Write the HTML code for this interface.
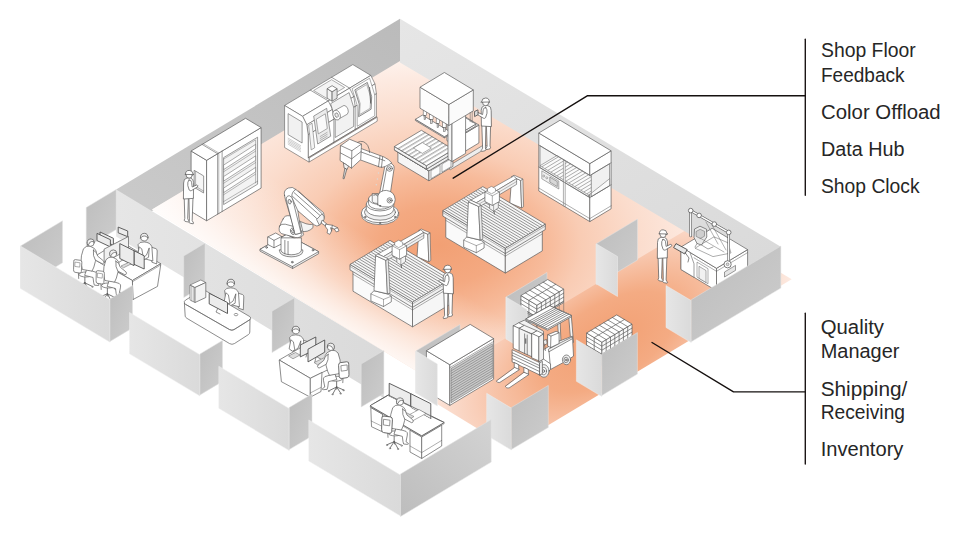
<!DOCTYPE html>
<html><head><meta charset="utf-8"><title>Shop floor</title>
<style>
html,body{margin:0;padding:0;background:#fff;}
body{width:960px;height:540px;overflow:hidden;position:relative;font-family:"Liberation Sans",sans-serif;}
svg{position:absolute;left:0;top:0;display:block;}
.lbl{position:absolute;left:821px;color:#1a1a1a;font-size:19px;line-height:24.5px;white-space:nowrap;letter-spacing:-0.2px;}
</style></head><body>
<svg width="960" height="540" viewBox="0 0 960 540">
<defs>
<radialGradient id="z1" gradientUnits="userSpaceOnUse" cx="0" cy="0" r="300" gradientTransform="translate(440 245) scale(1 0.66)">
<stop offset="0" stop-color="#f2a074"/><stop offset="0.2" stop-color="#f4a981"/><stop offset="0.36" stop-color="#f7bb9b"/><stop offset="0.47" stop-color="#f9ccb4"/><stop offset="0.65" stop-color="#fbdccc"/><stop offset="0.85" stop-color="#fdeae1"/><stop offset="1" stop-color="#fff7f3"/></radialGradient>
<linearGradient id="fadeW" gradientUnits="userSpaceOnUse" x1="250" y1="270.4" x2="297" y2="193">
<stop offset="0" stop-color="#fff" stop-opacity="0.8"/><stop offset="0.4" stop-color="#fff" stop-opacity="0.4"/><stop offset="1" stop-color="#fff" stop-opacity="0"/></linearGradient>
<radialGradient id="z2" gradientUnits="userSpaceOnUse" cx="0" cy="0" r="215" gradientTransform="translate(608 342) rotate(-31) scale(1 0.5)">
<stop offset="0" stop-color="#f29f72"/><stop offset="0.35" stop-color="#f4ab83"/><stop offset="0.7" stop-color="#f9cfba"/><stop offset="1" stop-color="#fdeee7"/></radialGradient>
<linearGradient id="gD" x1="0" y1="0" x2="1" y2="1"><stop offset="0" stop-color="#bdbdbd"/><stop offset="1" stop-color="#cdcdcd"/></linearGradient>
<linearGradient id="gD4" x1="0" y1="1" x2="1" y2="0"><stop offset="0" stop-color="#bdbdbd"/><stop offset="1" stop-color="#d3d3d3"/></linearGradient>
<linearGradient id="gL" x1="0" y1="0" x2="1" y2="0"><stop offset="0" stop-color="#e6e6e6"/><stop offset="1" stop-color="#dadada"/></linearGradient>
<linearGradient id="gNW" x1="0" y1="1" x2="1" y2="0"><stop offset="0" stop-color="#cbcbcb"/><stop offset="1" stop-color="#bbbbbb"/></linearGradient>
<linearGradient id="gNE" x1="0" y1="0" x2="1" y2="1"><stop offset="0" stop-color="#e6e6e6"/><stop offset="1" stop-color="#d9d9d9"/></linearGradient>

</defs>
<polygon points="400,18.8 116.2,189.5 116.2,232.5 400,62.5" fill="url(#gNW)" />
<polygon points="696.8,222.3 791.7,279.2 509.8,448.3 415.8,391" fill="url(#z2)" />
<polygon points="152,209.5 400,61 400,44 697.8,222.9 433.5,381.5" fill="url(#z1)" />
<polygon points="152,209.5 400,61 400,44 697.8,222.9 433.5,381.5" fill="url(#fadeW)" />
<polygon points="400,18.8 780.8,246.7 780.8,288.3 400,62.5" fill="url(#gNE)" />
<polygon points="86.2,207.5 116.2,189.5 116.2,229.5 86.2,247.5" fill="url(#gD)" stroke="#e2e2e2" stroke-width="0.5" stroke-linejoin="round" />
<polygon points="116.2,189.5 383.8,351.2 383.8,398 116.2,236.5" fill="url(#gL)" />
<polygon points="446.9,140.6 464.9,151.4 464.9,133.4 446.9,122.6" fill="#fff" stroke="#5c5c5c" stroke-width="0.7" stroke-linejoin="round" />
<polygon points="464.9,151.4 478.9,143 478.9,125 464.9,133.4" fill="#fff" stroke="#5c5c5c" stroke-width="0.7" stroke-linejoin="round" />
<polygon points="446.9,122.6 460.9,114.2 478.9,125 464.9,133.4" fill="#f2f2f2" stroke="#5c5c5c" stroke-width="0.7" stroke-linejoin="round" />
<polygon points="450.9,124.2 464.9,132.6 464.9,130.6 450.9,122.2" fill="#fff" stroke="#5c5c5c" stroke-width="0.7" stroke-linejoin="round" />
<polygon points="464.9,132.6 475.9,126 475.9,124 464.9,130.6" fill="#fff" stroke="#5c5c5c" stroke-width="0.7" stroke-linejoin="round" />
<polygon points="450.9,122.2 461.9,115.6 475.9,124 464.9,130.6" fill="#fff" stroke="#5c5c5c" stroke-width="0.7" stroke-linejoin="round" />
<polygon points="450.4,169.7 488.4,146.9 484.4,144.5 446.4,167.3" fill="#eee" stroke="#5c5c5c" stroke-width="0.6" stroke-linejoin="round" />
<polygon points="397.9,162.2 428.9,180.8 428.9,170.8 397.9,152.2" fill="#f6f6f6" stroke="#5c5c5c" stroke-width="0.7" stroke-linejoin="round" />
<polygon points="428.9,180.8 452.9,166.4 452.9,156.4 428.9,170.8" fill="#f3f3f3" stroke="#5c5c5c" stroke-width="0.7" stroke-linejoin="round" />
<polygon points="397.9,152.2 421.9,137.8 452.9,156.4 428.9,170.8" fill="#fff" stroke="#5c5c5c" stroke-width="0.7" stroke-linejoin="round" />
<polygon points="397.9,152.2 428.9,170.8 426.4,169.2 394.4,150" fill="#fafafa" stroke="#5c5c5c" stroke-width="0.6" stroke-linejoin="round" />
<polygon points="428.9,170.8 452.9,156.4 453.4,153 426.4,169.2" fill="#f0f0f0" stroke="#5c5c5c" stroke-width="0.6" stroke-linejoin="round" />
<polygon points="431,178.7 440,173.3 440,165.3 431,170.7" fill="#fbfbfb" stroke="#5c5c5c" stroke-width="0.5" stroke-linejoin="round" />
<polygon points="442,172.1 451,166.7 451,158.7 442,164.1" fill="#fbfbfb" stroke="#5c5c5c" stroke-width="0.5" stroke-linejoin="round" />
<polygon points="394.4,150 426.4,169.2 426.4,165.7 394.4,146.5" fill="#f4f4f4" stroke="#5c5c5c" stroke-width="0.7" stroke-linejoin="round" />
<polygon points="426.4,169.2 453.4,153 453.4,149.5 426.4,165.7" fill="#f0f0f0" stroke="#5c5c5c" stroke-width="0.7" stroke-linejoin="round" />
<polygon points="394.4,146.5 421.4,130.3 453.4,149.5 426.4,165.7" fill="#fff" stroke="#5c5c5c" stroke-width="0.7" stroke-linejoin="round" />
<polyline points="397.9,148.6 424.9,132.4" fill="none" stroke="#5c5c5c" stroke-width="0.5" stroke-linejoin="round" stroke-linecap="round" />
<polyline points="398.8,149.1 425.8,132.9" fill="none" stroke="#5c5c5c" stroke-width="0.3" stroke-linejoin="round" stroke-linecap="round" />
<polyline points="401.4,150.7 428.4,134.5" fill="none" stroke="#5c5c5c" stroke-width="0.5" stroke-linejoin="round" stroke-linecap="round" />
<polyline points="402.3,151.2 429.3,135" fill="none" stroke="#5c5c5c" stroke-width="0.3" stroke-linejoin="round" stroke-linecap="round" />
<polyline points="404.9,152.8 431.9,136.6" fill="none" stroke="#5c5c5c" stroke-width="0.5" stroke-linejoin="round" stroke-linecap="round" />
<polyline points="405.8,153.3 432.8,137.1" fill="none" stroke="#5c5c5c" stroke-width="0.3" stroke-linejoin="round" stroke-linecap="round" />
<polyline points="408.4,154.9 435.4,138.7" fill="none" stroke="#5c5c5c" stroke-width="0.5" stroke-linejoin="round" stroke-linecap="round" />
<polyline points="409.3,155.4 436.3,139.2" fill="none" stroke="#5c5c5c" stroke-width="0.3" stroke-linejoin="round" stroke-linecap="round" />
<polyline points="411.9,157 438.9,140.8" fill="none" stroke="#5c5c5c" stroke-width="0.5" stroke-linejoin="round" stroke-linecap="round" />
<polyline points="412.8,157.5 439.8,141.3" fill="none" stroke="#5c5c5c" stroke-width="0.3" stroke-linejoin="round" stroke-linecap="round" />
<polyline points="415.4,159.1 442.4,142.9" fill="none" stroke="#5c5c5c" stroke-width="0.5" stroke-linejoin="round" stroke-linecap="round" />
<polyline points="416.3,159.6 443.3,143.4" fill="none" stroke="#5c5c5c" stroke-width="0.3" stroke-linejoin="round" stroke-linecap="round" />
<polyline points="418.9,161.2 445.9,145" fill="none" stroke="#5c5c5c" stroke-width="0.5" stroke-linejoin="round" stroke-linecap="round" />
<polyline points="419.8,161.7 446.8,145.5" fill="none" stroke="#5c5c5c" stroke-width="0.3" stroke-linejoin="round" stroke-linecap="round" />
<polyline points="422.4,163.3 449.4,147.1" fill="none" stroke="#5c5c5c" stroke-width="0.5" stroke-linejoin="round" stroke-linecap="round" />
<polyline points="423.3,163.8 450.3,147.6" fill="none" stroke="#5c5c5c" stroke-width="0.3" stroke-linejoin="round" stroke-linecap="round" />
<polygon points="413.4,148 422.4,142.6 431.4,148 422.4,153.4" fill="#fff" stroke="#5c5c5c" stroke-width="0.5" stroke-linejoin="round" />
<polygon points="415.4,120.5 444.4,137.9 444.4,136.7 415.4,119.3" fill="#f4f4f4" stroke="#5c5c5c" stroke-width="0.7" stroke-linejoin="round" />
<polygon points="444.4,137.9 451.4,133.7 451.4,132.5 444.4,136.7" fill="#eee" stroke="#5c5c5c" stroke-width="0.7" stroke-linejoin="round" />
<polygon points="415.4,119.3 422.4,115.1 451.4,132.5 444.4,136.7" fill="#fff" stroke="#5c5c5c" stroke-width="0.7" stroke-linejoin="round" />
<g stroke="#5c5c5c" stroke-width="0.55" fill="#fff"><rect x="423.2" y="110.1" width="3.4" height="5.5"/><rect x="424.1" y="115.6" width="1.6" height="4" fill="#ddd"/></g>
<g stroke="#5c5c5c" stroke-width="0.55" fill="#fff"><rect x="429.7" y="114" width="3.4" height="5.5"/><rect x="430.6" y="119.5" width="1.6" height="4" fill="#ddd"/></g>
<g stroke="#5c5c5c" stroke-width="0.55" fill="#fff"><rect x="436.2" y="117.9" width="3.4" height="5.5"/><rect x="437.1" y="123.4" width="1.6" height="4" fill="#ddd"/></g>
<g stroke="#5c5c5c" stroke-width="0.55" fill="#fff"><rect x="442.7" y="121.8" width="3.4" height="5.5"/><rect x="443.6" y="127.3" width="1.6" height="4" fill="#ddd"/></g>
<polygon points="448,159.1 452,161.5 452,119.5 448,117.1" fill="#f4f4f4" stroke="#5c5c5c" stroke-width="0.7" stroke-linejoin="round" />
<polygon points="452,161.5 465.6,153.4 465.6,111.4 452,119.5" fill="#fff" stroke="#5c5c5c" stroke-width="0.7" stroke-linejoin="round" />
<polygon points="448,117.1 461.6,109 465.6,111.4 452,119.5" fill="#fff" stroke="#5c5c5c" stroke-width="0.7" stroke-linejoin="round" />
<polygon points="420,108.2 448.9,125.5 448.9,104.5 420,87.2" fill="#fdfdfd" stroke="#5c5c5c" stroke-width="0.7" stroke-linejoin="round" />
<polygon points="448.9,125.5 473.3,110.9 473.3,89.9 448.9,104.5" fill="#fbfbfb" stroke="#5c5c5c" stroke-width="0.7" stroke-linejoin="round" />
<polygon points="420,87.2 444.4,72.5 473.3,89.9 448.9,104.5" fill="#fff" stroke="#5c5c5c" stroke-width="0.7" stroke-linejoin="round" />
<path d="M470.2,112.7 l0,9 M472.2,111.5 l0,11" fill="none" stroke="#666" stroke-width="0.6" stroke-linejoin="round" stroke-linecap="round" />
<g transform="translate(486.2 151.2) scale(-1 1)" fill="#fff" stroke="#5c5c5c" stroke-width="0.75" stroke-linejoin="round" stroke-linecap="round">
<path d="M0.3,-26 L0.8,-3.2 L0.2,-1.6 Q0.4,-0.4 2.2,-0.2 L4.6,0.2 Q5.6,-0.4 4.4,-1.6 L3.6,-3 L4.4,-26Z"/>
<path d="M-4.4,-26 L-3.8,-5.2 L-4.4,-3.4 Q-4.2,-2.2 -2.4,-2 L0,-1.6 Q1,-2.2 -0.2,-3.4 L-0.9,-5 L-0.2,-26Z"/>
<path d="M-5,-41 Q-5.2,-45 -1.6,-45.6 L1.8,-45.6 Q4.8,-45 5,-41 L4.8,-25.2 L-4.8,-24.6Z"/>
<path d="M0.4,-43.6 Q-1.4,-42 -0.8,-38 L0.6,-33.6 Q1.4,-32.4 2.8,-33 L8.8,-36.6 Q10,-38 8.4,-38.8 L3.6,-36.6 L3,-41.4 Q2.6,-44 0.4,-43.6Z"/>
<path d="M8.6,-41.2 L11.8,-39.6 L11.6,-34.6 L8.4,-36.4Z" fill="#d9d9d9" stroke="#4a4a4a" stroke-width="0.8"/>
<circle cx="0.6" cy="-48.6" r="3.1"/>
<path d="M-3.2,-49.2 Q-3.2,-53.2 0.6,-53.2 Q4.2,-53.2 4.4,-49.6 L5.4,-49 L-3.2,-49.2Z"/>
</g>
<polygon points="284.6,105.5 352.8,64.6 370.8,75.4 302.6,116.3" fill="#ffffff" stroke="#5c5c5c" stroke-width="0.6" stroke-linejoin="round" />
<polygon points="302.6,116.3 370.8,75.4 375,83.9 306.8,124.8" fill="#ffffff" stroke="#5c5c5c" stroke-width="0.6" stroke-linejoin="round" />
<polygon points="306.8,124.8 375,83.9 376.4,93.7 308.2,134.7" fill="#ffffff" stroke="#5c5c5c" stroke-width="0.6" stroke-linejoin="round" />
<polygon points="308.2,134.7 376.4,93.7 376.4,116.7 308.2,157.7" fill="#ffffff" stroke="#5c5c5c" stroke-width="0.6" stroke-linejoin="round" />
<polygon points="309,158.1 377.2,117.2 377.2,121.2 309,162.1" fill="#ffffff" stroke="#5c5c5c" stroke-width="0.6" stroke-linejoin="round" />
<polygon points="284.6,147.5 284.6,105.5 302.6,116.3 306.8,124.8 308.2,134.7 308.2,157.7 309,158.1 309,162.1" fill="#ffffff" stroke="#5c5c5c" stroke-width="0.6" stroke-linejoin="round" />
<polygon points="288.1,134.6 302.1,143 302.1,122 288.1,113.6" fill="#f1f1f1" stroke="#5c5c5c" stroke-width="0.6" stroke-linejoin="round" />
<polyline points="288.1,144.1 300.6,151.6" fill="none" stroke="#5c5c5c" stroke-width="0.3" stroke-linejoin="round" stroke-linecap="round" />
<polyline points="288.1,142.6 300.6,150.1" fill="none" stroke="#5c5c5c" stroke-width="0.3" stroke-linejoin="round" stroke-linecap="round" />
<polyline points="288.1,141.1 300.6,148.6" fill="none" stroke="#5c5c5c" stroke-width="0.3" stroke-linejoin="round" stroke-linecap="round" />
<polyline points="288.1,139.6 300.6,147.1" fill="none" stroke="#5c5c5c" stroke-width="0.3" stroke-linejoin="round" stroke-linecap="round" />
<polyline points="288.1,138.1 300.6,145.6" fill="none" stroke="#5c5c5c" stroke-width="0.3" stroke-linejoin="round" stroke-linecap="round" />
<polyline points="310.3,90.1 328.3,100.9 332.5,109.4 333.9,119.2 333.9,142.2" fill="none" stroke="#5c5c5c" stroke-width="0.6" stroke-linejoin="round" stroke-linecap="round" />
<polyline points="331.6,77.3 349.6,88.1 353.8,96.6 355.2,106.5 355.2,129.5" fill="none" stroke="#5c5c5c" stroke-width="0.6" stroke-linejoin="round" stroke-linecap="round" />
<polyline points="308.2,157.7 376.4,116.7" fill="none" stroke="#5c5c5c" stroke-width="0.6" stroke-linejoin="round" stroke-linecap="round" />
<polygon points="313.6,90.5 331.6,79.7 344.6,87.5 326.6,98.3" fill="#f4f4f4" stroke="#5c5c5c" stroke-width="0.5" stroke-linejoin="round" />
<polygon points="311.2,149.9 314.7,147.8 312.1,123.2 308.6,125.3" fill="#f4f4f4" stroke="#5c5c5c" stroke-width="0.5" stroke-linejoin="round" />
<polygon points="317.7,144 330.7,136.2 326.7,108.3 313.7,116.1" fill="#ececec" stroke="#5c5c5c" stroke-width="0.6" stroke-linejoin="round" />
<polygon points="318.3,133.9 327.3,128.5 325.3,113.8 316.3,119.2" fill="#fafafa" stroke="#5c5c5c" stroke-width="0.5" stroke-linejoin="round" />
<polyline points="320.2,140.5 327.2,136.3" fill="none" stroke="#5c5c5c" stroke-width="0.4" stroke-linejoin="round" stroke-linecap="round" />
<polyline points="320.2,138.5 327.2,134.3" fill="none" stroke="#5c5c5c" stroke-width="0.4" stroke-linejoin="round" stroke-linecap="round" />
<polyline points="320.2,136.5 327.2,132.3" fill="none" stroke="#5c5c5c" stroke-width="0.4" stroke-linejoin="round" stroke-linecap="round" />
<polygon points="335.2,137.5 353.7,126.4 353.7,107.4 349.1,92.6 330.6,103.7 335.2,118.5" fill="#f2f2f2" stroke="#5c5c5c" stroke-width="0.6" stroke-linejoin="round" />
<g stroke="#5c5c5c" stroke-width="0.6" fill="#fff"><path d="M335,110.4 l9,-5 a3.6,5 -20 0 1 3.3,8.8 l-9,5z"/><ellipse cx="336.6" cy="115.1" rx="3.6" ry="5" transform="rotate(-20 336.6 115.1)"/><ellipse cx="336.6" cy="115.1" rx="1.6" ry="2.3" fill="#eee" transform="rotate(-20 336.6 115.1)"/></g>
<polygon points="327.1,98.2 332.1,101.2 332.1,91.7 327.1,88.7" fill="#f4f4f4" stroke="#5c5c5c" stroke-width="0.7" stroke-linejoin="round" />
<polygon points="332.1,101.2 337.1,98.2 337.1,88.7 332.1,91.7" fill="#e4e4e4" stroke="#5c5c5c" stroke-width="0.7" stroke-linejoin="round" />
<polygon points="327.1,88.7 332.1,85.7 337.1,88.7 332.1,91.7" fill="#fff" stroke="#5c5c5c" stroke-width="0.7" stroke-linejoin="round" />
<polygon points="357.2,126.3 374.7,115.8 374.7,94.8 369.6,78.2 352.1,88.7 357.2,105.3" fill="#fff" stroke="#5c5c5c" stroke-width="0.5" stroke-linejoin="round" />
<polygon points="358.6,116.7 371.1,109.2 371.7,96.6 367.3,82.4 354.8,89.9 359.2,104.1" fill="#ededed" stroke="#5c5c5c" stroke-width="0.7" stroke-linejoin="round" />
<polygon points="359.6,114.6 370.1,108.3 370.7,97.2 366.7,84.6 356.2,90.9 360.2,103.5" fill="#f9f9f9" stroke="#5c5c5c" stroke-width="0.4" stroke-linejoin="round" />
<polyline points="370.6,103.1 369.6,87.5" fill="none" stroke="#5c5c5c" stroke-width="0.9" stroke-linejoin="round" stroke-linecap="round" />
<polygon points="538.8,191 589.8,221.6 589.8,163.6 538.8,133" fill="#fff" stroke="#5c5c5c" stroke-width="0.7" stroke-linejoin="round" />
<polygon points="589.8,221.6 611.1,208.8 611.1,150.8 589.8,163.6" fill="#fff" stroke="#5c5c5c" stroke-width="0.7" stroke-linejoin="round" />
<polygon points="538.8,133 560.1,120.2 611.1,150.8 589.8,163.6" fill="#fff" stroke="#5c5c5c" stroke-width="0.7" stroke-linejoin="round" />
<polygon points="540,167.7 588.6,196.9 588.6,174.9 540,145.7" fill="#f2f2f2" stroke="#5c5c5c" stroke-width="0.6" stroke-linejoin="round" />
<polygon points="540,165.7 588.6,194.9 605.6,184.7 557,155.5" fill="#fbfbfb" stroke="#5c5c5c" stroke-width="0.5" stroke-linejoin="round" />
<polyline points="542.3,166.5 558.3,156.9" fill="none" stroke="#5c5c5c" stroke-width="0.5" stroke-linejoin="round" stroke-linecap="round" />
<polyline points="545.3,168.3 561.3,158.7" fill="none" stroke="#5c5c5c" stroke-width="0.5" stroke-linejoin="round" stroke-linecap="round" />
<polyline points="548.3,170.1 564.3,160.5" fill="none" stroke="#5c5c5c" stroke-width="0.5" stroke-linejoin="round" stroke-linecap="round" />
<polyline points="551.3,171.9 567.3,162.3" fill="none" stroke="#5c5c5c" stroke-width="0.5" stroke-linejoin="round" stroke-linecap="round" />
<polyline points="554.3,173.7 570.3,164.1" fill="none" stroke="#5c5c5c" stroke-width="0.5" stroke-linejoin="round" stroke-linecap="round" />
<polyline points="557.3,175.5 573.3,165.9" fill="none" stroke="#5c5c5c" stroke-width="0.5" stroke-linejoin="round" stroke-linecap="round" />
<polyline points="560.3,177.3 576.3,167.7" fill="none" stroke="#5c5c5c" stroke-width="0.5" stroke-linejoin="round" stroke-linecap="round" />
<polyline points="563.3,179.1 579.3,169.5" fill="none" stroke="#5c5c5c" stroke-width="0.5" stroke-linejoin="round" stroke-linecap="round" />
<polyline points="566.3,180.9 582.3,171.3" fill="none" stroke="#5c5c5c" stroke-width="0.5" stroke-linejoin="round" stroke-linecap="round" />
<polyline points="569.3,182.7 585.3,173.1" fill="none" stroke="#5c5c5c" stroke-width="0.5" stroke-linejoin="round" stroke-linecap="round" />
<polyline points="572.3,184.5 588.3,174.9" fill="none" stroke="#5c5c5c" stroke-width="0.5" stroke-linejoin="round" stroke-linecap="round" />
<polyline points="575.3,186.3 591.3,176.7" fill="none" stroke="#5c5c5c" stroke-width="0.5" stroke-linejoin="round" stroke-linecap="round" />
<polyline points="578.3,188.1 594.3,178.5" fill="none" stroke="#5c5c5c" stroke-width="0.5" stroke-linejoin="round" stroke-linecap="round" />
<polyline points="581.3,189.9 597.3,180.3" fill="none" stroke="#5c5c5c" stroke-width="0.5" stroke-linejoin="round" stroke-linecap="round" />
<polyline points="584.3,191.7 600.3,182.1" fill="none" stroke="#5c5c5c" stroke-width="0.5" stroke-linejoin="round" stroke-linecap="round" />
<polyline points="587.3,193.5 603.3,183.9" fill="none" stroke="#5c5c5c" stroke-width="0.5" stroke-linejoin="round" stroke-linecap="round" />
<polygon points="563.4,205.8 565.2,206.8 565.2,160.8 563.4,159.8" fill="#fff" stroke="#5c5c5c" stroke-width="0.5" stroke-linejoin="round" />
<polyline points="538.8,145 589.8,175.6" fill="none" stroke="#5c5c5c" stroke-width="0.6" stroke-linejoin="round" stroke-linecap="round" />
<polyline points="538.8,167 589.8,197.6" fill="none" stroke="#5c5c5c" stroke-width="0.6" stroke-linejoin="round" stroke-linecap="round" />
<polyline points="538.8,188 589.8,218.6" fill="none" stroke="#5c5c5c" stroke-width="0.5" stroke-linejoin="round" stroke-linecap="round" />
<polygon points="541.8,178.8 558.8,189 558.8,181 541.8,170.8" fill="#f1f1f1" stroke="#5c5c5c" stroke-width="0.5" stroke-linejoin="round" />
<polygon points="549.8,182.1 557.3,186.6 557.3,181.6 549.8,177.1" fill="#d8d8d8" stroke="#5c5c5c" stroke-width="0.5" stroke-linejoin="round" />
<circle cx="543.8" cy="176" r="1" fill="#fff" stroke="#5c5c5c" stroke-width="0.5"/>
<circle cx="546.8" cy="177.8" r="1" fill="#fff" stroke="#5c5c5c" stroke-width="0.5"/>
<polygon points="591.3,196.7 609.6,185.7 609.6,163.7 591.3,174.7" fill="#f0f0f0" stroke="#5c5c5c" stroke-width="0.6" stroke-linejoin="round" />
<polygon points="591.3,196.7 609.6,185.7 609.6,178.7 591.3,193.2" fill="#fafafa" stroke="#5c5c5c" stroke-width="0.5" stroke-linejoin="round" />
<polyline points="589.8,175.6 611.1,162.8" fill="none" stroke="#5c5c5c" stroke-width="0.6" stroke-linejoin="round" stroke-linecap="round" />
<polyline points="589.8,197.6 611.1,184.8" fill="none" stroke="#5c5c5c" stroke-width="0.6" stroke-linejoin="round" stroke-linecap="round" />
<polyline points="589.8,218.6 611.1,205.8" fill="none" stroke="#5c5c5c" stroke-width="0.5" stroke-linejoin="round" stroke-linecap="round" />
<g transform="translate(330 130) scale(0.1852)" fill="#fff" stroke="#5c5c5c" stroke-width="3.8" stroke-linejoin="round" stroke-linecap="round">

<ellipse cx="270" cy="458" rx="101" ry="53"/>
<ellipse cx="270" cy="448" rx="101" ry="53"/>
<ellipse cx="270" cy="444" rx="84" ry="43" fill="#f1f1f1"/>
<path d="M196,400 L196,428 A74,37 0 0 0 344,428 L344,400Z"/>
<ellipse cx="270" cy="400" rx="74" ry="37"/>
<path d="M208,372 L208,398 A62,30 0 0 0 332,398 L332,372Z"/>
<ellipse cx="270" cy="372" rx="62" ry="30"/>
<path d="M228,345 L228,385 A30,14 0 0 0 262,396 L262,350Z" fill="#f6f6f6"/>
<path d="M266,352 L296,196 Q300,176 322,178 Q348,184 346,208 L322,368 Q300,388 266,352Z"/>
<path d="M280,350 L306,206" fill="none"/>
<path d="M258,404 L258,356 Q268,326 304,326 Q350,332 352,376 Q350,408 318,416 Q282,420 258,404Z"/>
<path d="M258,356 Q246,344 236,352" fill="none"/>
<circle cx="322" cy="380" r="14"/><circle cx="322" cy="380" r="6" fill="#e8e8e8"/>
<circle cx="322" cy="208" r="15"/><circle cx="322" cy="208" r="6" fill="#e8e8e8"/>
<path d="M168,100 L292,146 Q318,158 334,178 L300,196 Q286,204 268,200 L160,160Z"/>
<path d="M166,118 L296,166 M270,140 L262,198 M284,146 L278,202" fill="none"/>
<path d="M58,84 L106,50 L170,76 L166,160 L116,206 L56,166Z"/>
<path d="M58,84 L118,112 L170,76 M118,112 L116,206 M57,124 L117,156 L168,116" fill="none"/>
<path d="M74,178 L100,195 L92,214 L78,206Z" fill="#f2f2f2"/>
<path d="M80,208 L70,262 L76,264 L90,214Z" fill="#ddd"/>
<path d="M150,66 Q182,50 204,84 Q214,104 214,122" fill="none"/>
<g stroke="none" fill="#d9d9d9"><circle cx="262" cy="232" r="4"/><circle cx="256" cy="264" r="4"/><circle cx="250" cy="296" r="4"/></g>
<g fill="#ccc"><circle cx="190" cy="470" r="4"/><circle cx="352" cy="470" r="4"/><circle cx="270" cy="502" r="4"/><circle cx="270" cy="410" r="3" fill="none"/></g>

</g>
<g transform="translate(255 175) scale(0.1757)" fill="#fff" stroke="#5c5c5c" stroke-width="4" stroke-linejoin="round" stroke-linecap="round">

<path d="M30,422 L180,338 L362,436 L362,448 L214,532 L30,434Z" fill="#f1f1f1"/>
<path d="M30,422 L180,338 L362,436 L214,520Z"/>
<path d="M214,520 L214,532" fill="none"/>
<g fill="#ccc"><circle cx="66" cy="412" r="5"/><circle cx="212" cy="496" r="5"/><circle cx="330" cy="428" r="5"/></g>
<path d="M74,352 L118,330 L152,350 L152,392 L108,414 L74,396Z"/>
<path d="M74,352 L108,372 L152,350 M108,372 L108,414" fill="none"/>
<path d="M140,436 A66,30 0 0 0 272,436 L272,426 L140,426Z" fill="#f1f1f1"/>
<path d="M148,360 L148,428 A58,26 0 0 0 264,428 L264,360Z"/>
<path d="M170,372 L170,448 M188,378 L188,452" fill="none"/>
<path d="M232,250 Q300,290 330,280 L330,300 Q300,330 262,320Z" fill="#f4f4f4"/>
<path d="M160,250 Q168,228 196,232 L260,268 L276,340 Q262,362 236,352 L150,330 Q128,300 160,250Z"/>
<path d="M140,290 Q150,276 172,280 L246,300 Q270,312 266,338 Q258,360 232,356 L152,334 Q130,322 140,290Z"/>
<ellipse cx="216" cy="320" rx="14" ry="19" transform="rotate(-20 216 320)"/><ellipse cx="216" cy="320" rx="7" ry="10" fill="#e8e8e8" transform="rotate(-20 216 320)"/>
<path d="M168,116 Q160,86 190,74 Q214,64 232,82 L390,214 Q400,236 388,262 L366,286 Q352,296 338,284 L244,204 L262,330 L232,338 L182,170 Q172,140 168,116Z"/>
<path d="M232,82 Q206,96 210,128 L244,204" fill="none"/>
<path d="M222,100 L372,232 M214,122 L356,252 M248,92 L386,224" fill="none"/>
<path d="M178,140 Q176,118 196,118 Q214,124 216,146 L262,330 L230,338Z"/>
<ellipse cx="197" cy="152" rx="9" ry="13" transform="rotate(-15 197 152)" fill="#eee"/>
<path d="M352,252 L380,222 Q398,232 392,256 L368,284Z" fill="#f3f3f3"/>
<path d="M384,258 L410,280 L404,292 L378,274Z"/>
<path d="M404,280 L440,286 L470,300 L478,318 L462,324 L452,308 L430,300 L436,318 L426,338 L410,330 L414,312 L402,296Z"/>
<path d="M440,286 L436,318 M452,308 L470,300" fill="none"/>

</g>
<g transform="translate(0 0)">
<polygon points="511.7,176.6 520.6,180.4 521.6,208 509.8,203" fill="#fff" stroke="#5c5c5c" stroke-width="0.7" stroke-linejoin="round" />
<polygon points="520.6,180.4 522.9,179 523.6,206.6 521.6,208" fill="#eee" stroke="#5c5c5c" stroke-width="0.6" stroke-linejoin="round" />
<polygon points="511.7,176.6 514,175.2 522.9,179 520.6,180.4" fill="#fff" stroke="#5c5c5c" stroke-width="0.6" stroke-linejoin="round" />
<polygon points="445.8,237.4 505.3,273.1 505.3,251.8 445.8,216.1" fill="#fafafa" stroke="#5c5c5c" stroke-width="0.7" stroke-linejoin="round" />
<polygon points="505.3,273.1 542.3,250.9 542.3,229.6 505.3,251.8" fill="#f6f6f6" stroke="#5c5c5c" stroke-width="0.7" stroke-linejoin="round" />
<polygon points="445.8,216.1 482.8,193.9 542.3,229.6 505.3,251.8" fill="#fff" stroke="#5c5c5c" stroke-width="0.7" stroke-linejoin="round" />
<polyline points="505.3,256.1 542.3,233.9" fill="none" stroke="#5c5c5c" stroke-width="0.5" stroke-linejoin="round" stroke-linecap="round" />
<polyline points="445.8,220.4 505.3,256.1" fill="none" stroke="#5c5c5c" stroke-width="0.5" stroke-linejoin="round" stroke-linecap="round" />
<polygon points="442.8,216.1 505.3,253.6 505.3,248.1 442.8,210.6" fill="#f4f4f4" stroke="#5c5c5c" stroke-width="0.7" stroke-linejoin="round" />
<polygon points="505.3,253.6 545.3,229.6 545.3,224.1 505.3,248.1" fill="#efefef" stroke="#5c5c5c" stroke-width="0.7" stroke-linejoin="round" />
<polygon points="442.8,210.6 482.8,186.6 545.3,224.1 505.3,248.1" fill="#f7f7f7" stroke="#5c5c5c" stroke-width="0.7" stroke-linejoin="round" />
<polyline points="442.8,212.6 505.3,250.1" fill="none" stroke="#5c5c5c" stroke-width="0.4" stroke-linejoin="round" stroke-linecap="round" />
<polyline points="505.3,250.1 545.3,226.1" fill="none" stroke="#5c5c5c" stroke-width="0.4" stroke-linejoin="round" stroke-linecap="round" />
<polyline points="445.6,209.9 506.5,246.4" fill="none" stroke="#7a7a7a" stroke-width="0.8" stroke-linejoin="round" stroke-linecap="round" />
<polyline points="448,208.5 508.9,245" fill="none" stroke="#7a7a7a" stroke-width="0.8" stroke-linejoin="round" stroke-linecap="round" />
<polyline points="450.3,207.1 511.2,243.6" fill="none" stroke="#7a7a7a" stroke-width="0.8" stroke-linejoin="round" stroke-linecap="round" />
<polyline points="452.7,205.6 513.6,242.2" fill="none" stroke="#7a7a7a" stroke-width="0.8" stroke-linejoin="round" stroke-linecap="round" />
<polyline points="455,204.2 515.9,240.8" fill="none" stroke="#7a7a7a" stroke-width="0.8" stroke-linejoin="round" stroke-linecap="round" />
<polyline points="457.4,202.8 518.2,239.4" fill="none" stroke="#7a7a7a" stroke-width="0.8" stroke-linejoin="round" stroke-linecap="round" />
<polyline points="459.7,201.4 520.6,238" fill="none" stroke="#7a7a7a" stroke-width="0.8" stroke-linejoin="round" stroke-linecap="round" />
<polyline points="462.1,200 523,236.6" fill="none" stroke="#7a7a7a" stroke-width="0.8" stroke-linejoin="round" stroke-linecap="round" />
<polyline points="464.4,198.6 525.3,235.1" fill="none" stroke="#7a7a7a" stroke-width="0.8" stroke-linejoin="round" stroke-linecap="round" />
<polyline points="466.8,197.2 527.6,233.7" fill="none" stroke="#7a7a7a" stroke-width="0.8" stroke-linejoin="round" stroke-linecap="round" />
<polyline points="469.1,195.8 530,232.3" fill="none" stroke="#7a7a7a" stroke-width="0.8" stroke-linejoin="round" stroke-linecap="round" />
<polyline points="471.5,194.4 532.4,230.9" fill="none" stroke="#7a7a7a" stroke-width="0.8" stroke-linejoin="round" stroke-linecap="round" />
<polyline points="473.8,193 534.7,229.5" fill="none" stroke="#7a7a7a" stroke-width="0.8" stroke-linejoin="round" stroke-linecap="round" />
<polyline points="476.2,191.5 537.1,228.1" fill="none" stroke="#7a7a7a" stroke-width="0.8" stroke-linejoin="round" stroke-linecap="round" />
<polyline points="478.5,190.1 539.4,226.7" fill="none" stroke="#7a7a7a" stroke-width="0.8" stroke-linejoin="round" stroke-linecap="round" />
<polyline points="480.9,188.7 541.8,225.3" fill="none" stroke="#7a7a7a" stroke-width="0.8" stroke-linejoin="round" stroke-linecap="round" />
<polygon points="470.7,200.2 513.6,176.1 516.6,178.6 476.3,202.8" fill="#fff" stroke="#5c5c5c" stroke-width="0.6" stroke-linejoin="round" />
<polygon points="476.3,202.8 516.6,178.6 516.6,184.4 476.3,208.6" fill="#f1f1f1" stroke="#5c5c5c" stroke-width="0.6" stroke-linejoin="round" />
<polyline points="476.3,205.7 516.6,181.5" fill="none" stroke="#5c5c5c" stroke-width="0.4" stroke-linejoin="round" stroke-linecap="round" />
<polygon points="463.7,240.1 466.8,236.9 481,240.4 484.1,242.4 484.1,248 476.3,252.7 463.7,247.2" fill="#fff" stroke="#5c5c5c" stroke-width="0.7" stroke-linejoin="round" />
<polyline points="463.7,240.1 476.3,245.6 484.1,242.4" fill="none" stroke="#5c5c5c" stroke-width="0.5" stroke-linejoin="round" stroke-linecap="round" />
<polyline points="476.3,245.6 476.3,252.7" fill="none" stroke="#5c5c5c" stroke-width="0.5" stroke-linejoin="round" stroke-linecap="round" />
<polygon points="468.4,201.8 478.6,206.5 480.2,240 466.8,236.9" fill="#fff" stroke="#5c5c5c" stroke-width="0.7" stroke-linejoin="round" />
<polygon points="478.6,206.5 481,205 482.8,239.3 480.2,240" fill="#ececec" stroke="#5c5c5c" stroke-width="0.6" stroke-linejoin="round" />
<polygon points="468.4,201.8 470.7,200.2 481,205 478.6,206.5" fill="#fff" stroke="#5c5c5c" stroke-width="0.6" stroke-linejoin="round" />
<polygon points="489.6,202.3 498.3,199.1 498.3,207.8 493.6,211.3 489.6,208.6" fill="#f3f3f3" stroke="#5c5c5c" stroke-width="0.6" stroke-linejoin="round" />
<polyline points="493.6,204.5 493.6,211.3" fill="none" stroke="#5c5c5c" stroke-width="0.5" stroke-linejoin="round" stroke-linecap="round" />
<polyline points="494,211.3 494.4,214" fill="none" stroke="#5c5c5c" stroke-width="0.9" stroke-linejoin="round" stroke-linecap="round" />
<polygon points="484.9,192 492,188.1 499.4,192 499.4,201.5 492.3,205.4 484.9,201.5" fill="#fff" stroke="#5c5c5c" stroke-width="0.7" stroke-linejoin="round" />
<polyline points="484.9,192 492.3,195.9 499.4,192" fill="none" stroke="#5c5c5c" stroke-width="0.5" stroke-linejoin="round" stroke-linecap="round" />
<polyline points="492.3,195.9 492.3,205.4" fill="none" stroke="#5c5c5c" stroke-width="0.5" stroke-linejoin="round" stroke-linecap="round" />
<polygon points="487.5,188.6 491.5,186.4 495.5,188.6 495.5,191.6 491.5,193.8 487.5,191.6" fill="#fff" stroke="#5c5c5c" stroke-width="0.5" stroke-linejoin="round" />
</g>
<g transform="translate(-92.8 53.8)">
<polygon points="511.7,176.6 520.6,180.4 521.6,208 509.8,203" fill="#fff" stroke="#5c5c5c" stroke-width="0.7" stroke-linejoin="round" />
<polygon points="520.6,180.4 522.9,179 523.6,206.6 521.6,208" fill="#eee" stroke="#5c5c5c" stroke-width="0.6" stroke-linejoin="round" />
<polygon points="511.7,176.6 514,175.2 522.9,179 520.6,180.4" fill="#fff" stroke="#5c5c5c" stroke-width="0.6" stroke-linejoin="round" />
<polygon points="445.8,237.4 505.3,273.1 505.3,251.8 445.8,216.1" fill="#fafafa" stroke="#5c5c5c" stroke-width="0.7" stroke-linejoin="round" />
<polygon points="505.3,273.1 542.3,250.9 542.3,229.6 505.3,251.8" fill="#f6f6f6" stroke="#5c5c5c" stroke-width="0.7" stroke-linejoin="round" />
<polygon points="445.8,216.1 482.8,193.9 542.3,229.6 505.3,251.8" fill="#fff" stroke="#5c5c5c" stroke-width="0.7" stroke-linejoin="round" />
<polyline points="505.3,256.1 542.3,233.9" fill="none" stroke="#5c5c5c" stroke-width="0.5" stroke-linejoin="round" stroke-linecap="round" />
<polyline points="445.8,220.4 505.3,256.1" fill="none" stroke="#5c5c5c" stroke-width="0.5" stroke-linejoin="round" stroke-linecap="round" />
<polygon points="442.8,216.1 505.3,253.6 505.3,248.1 442.8,210.6" fill="#f4f4f4" stroke="#5c5c5c" stroke-width="0.7" stroke-linejoin="round" />
<polygon points="505.3,253.6 545.3,229.6 545.3,224.1 505.3,248.1" fill="#efefef" stroke="#5c5c5c" stroke-width="0.7" stroke-linejoin="round" />
<polygon points="442.8,210.6 482.8,186.6 545.3,224.1 505.3,248.1" fill="#f7f7f7" stroke="#5c5c5c" stroke-width="0.7" stroke-linejoin="round" />
<polyline points="442.8,212.6 505.3,250.1" fill="none" stroke="#5c5c5c" stroke-width="0.4" stroke-linejoin="round" stroke-linecap="round" />
<polyline points="505.3,250.1 545.3,226.1" fill="none" stroke="#5c5c5c" stroke-width="0.4" stroke-linejoin="round" stroke-linecap="round" />
<polyline points="445.6,209.9 506.5,246.4" fill="none" stroke="#7a7a7a" stroke-width="0.8" stroke-linejoin="round" stroke-linecap="round" />
<polyline points="448,208.5 508.9,245" fill="none" stroke="#7a7a7a" stroke-width="0.8" stroke-linejoin="round" stroke-linecap="round" />
<polyline points="450.3,207.1 511.2,243.6" fill="none" stroke="#7a7a7a" stroke-width="0.8" stroke-linejoin="round" stroke-linecap="round" />
<polyline points="452.7,205.6 513.6,242.2" fill="none" stroke="#7a7a7a" stroke-width="0.8" stroke-linejoin="round" stroke-linecap="round" />
<polyline points="455,204.2 515.9,240.8" fill="none" stroke="#7a7a7a" stroke-width="0.8" stroke-linejoin="round" stroke-linecap="round" />
<polyline points="457.4,202.8 518.2,239.4" fill="none" stroke="#7a7a7a" stroke-width="0.8" stroke-linejoin="round" stroke-linecap="round" />
<polyline points="459.7,201.4 520.6,238" fill="none" stroke="#7a7a7a" stroke-width="0.8" stroke-linejoin="round" stroke-linecap="round" />
<polyline points="462.1,200 523,236.6" fill="none" stroke="#7a7a7a" stroke-width="0.8" stroke-linejoin="round" stroke-linecap="round" />
<polyline points="464.4,198.6 525.3,235.1" fill="none" stroke="#7a7a7a" stroke-width="0.8" stroke-linejoin="round" stroke-linecap="round" />
<polyline points="466.8,197.2 527.6,233.7" fill="none" stroke="#7a7a7a" stroke-width="0.8" stroke-linejoin="round" stroke-linecap="round" />
<polyline points="469.1,195.8 530,232.3" fill="none" stroke="#7a7a7a" stroke-width="0.8" stroke-linejoin="round" stroke-linecap="round" />
<polyline points="471.5,194.4 532.4,230.9" fill="none" stroke="#7a7a7a" stroke-width="0.8" stroke-linejoin="round" stroke-linecap="round" />
<polyline points="473.8,193 534.7,229.5" fill="none" stroke="#7a7a7a" stroke-width="0.8" stroke-linejoin="round" stroke-linecap="round" />
<polyline points="476.2,191.5 537.1,228.1" fill="none" stroke="#7a7a7a" stroke-width="0.8" stroke-linejoin="round" stroke-linecap="round" />
<polyline points="478.5,190.1 539.4,226.7" fill="none" stroke="#7a7a7a" stroke-width="0.8" stroke-linejoin="round" stroke-linecap="round" />
<polyline points="480.9,188.7 541.8,225.3" fill="none" stroke="#7a7a7a" stroke-width="0.8" stroke-linejoin="round" stroke-linecap="round" />
<polygon points="470.7,200.2 513.6,176.1 516.6,178.6 476.3,202.8" fill="#fff" stroke="#5c5c5c" stroke-width="0.6" stroke-linejoin="round" />
<polygon points="476.3,202.8 516.6,178.6 516.6,184.4 476.3,208.6" fill="#f1f1f1" stroke="#5c5c5c" stroke-width="0.6" stroke-linejoin="round" />
<polyline points="476.3,205.7 516.6,181.5" fill="none" stroke="#5c5c5c" stroke-width="0.4" stroke-linejoin="round" stroke-linecap="round" />
<polygon points="463.7,240.1 466.8,236.9 481,240.4 484.1,242.4 484.1,248 476.3,252.7 463.7,247.2" fill="#fff" stroke="#5c5c5c" stroke-width="0.7" stroke-linejoin="round" />
<polyline points="463.7,240.1 476.3,245.6 484.1,242.4" fill="none" stroke="#5c5c5c" stroke-width="0.5" stroke-linejoin="round" stroke-linecap="round" />
<polyline points="476.3,245.6 476.3,252.7" fill="none" stroke="#5c5c5c" stroke-width="0.5" stroke-linejoin="round" stroke-linecap="round" />
<polygon points="468.4,201.8 478.6,206.5 480.2,240 466.8,236.9" fill="#fff" stroke="#5c5c5c" stroke-width="0.7" stroke-linejoin="round" />
<polygon points="478.6,206.5 481,205 482.8,239.3 480.2,240" fill="#ececec" stroke="#5c5c5c" stroke-width="0.6" stroke-linejoin="round" />
<polygon points="468.4,201.8 470.7,200.2 481,205 478.6,206.5" fill="#fff" stroke="#5c5c5c" stroke-width="0.6" stroke-linejoin="round" />
<polygon points="489.6,202.3 498.3,199.1 498.3,207.8 493.6,211.3 489.6,208.6" fill="#f3f3f3" stroke="#5c5c5c" stroke-width="0.6" stroke-linejoin="round" />
<polyline points="493.6,204.5 493.6,211.3" fill="none" stroke="#5c5c5c" stroke-width="0.5" stroke-linejoin="round" stroke-linecap="round" />
<polyline points="494,211.3 494.4,214" fill="none" stroke="#5c5c5c" stroke-width="0.9" stroke-linejoin="round" stroke-linecap="round" />
<polygon points="484.9,192 492,188.1 499.4,192 499.4,201.5 492.3,205.4 484.9,201.5" fill="#fff" stroke="#5c5c5c" stroke-width="0.7" stroke-linejoin="round" />
<polyline points="484.9,192 492.3,195.9 499.4,192" fill="none" stroke="#5c5c5c" stroke-width="0.5" stroke-linejoin="round" stroke-linecap="round" />
<polyline points="492.3,195.9 492.3,205.4" fill="none" stroke="#5c5c5c" stroke-width="0.5" stroke-linejoin="round" stroke-linecap="round" />
<polygon points="487.5,188.6 491.5,186.4 495.5,188.6 495.5,191.6 491.5,193.8 487.5,191.6" fill="#fff" stroke="#5c5c5c" stroke-width="0.5" stroke-linejoin="round" />
</g>
<g transform="translate(448.2 318.4) scale(-1 1)" fill="#fff" stroke="#5c5c5c" stroke-width="0.75" stroke-linejoin="round" stroke-linecap="round">
<path d="M0.3,-26 L0.8,-3.2 L0.2,-1.6 Q0.4,-0.4 2.2,-0.2 L4.6,0.2 Q5.6,-0.4 4.4,-1.6 L3.6,-3 L4.4,-26Z"/>
<path d="M-4.4,-26 L-3.8,-5.2 L-4.4,-3.4 Q-4.2,-2.2 -2.4,-2 L0,-1.6 Q1,-2.2 -0.2,-3.4 L-0.9,-5 L-0.2,-26Z"/>
<path d="M-5,-41 Q-5.2,-45 -1.6,-45.6 L1.8,-45.6 Q4.8,-45 5,-41 L4.8,-25.2 L-4.8,-24.6Z"/>
<path d="M0.4,-43.6 Q-1.4,-42 -0.8,-38 L0.6,-33.6 Q1.4,-32.4 2.8,-33 L8.8,-36.6 Q10,-38 8.4,-38.8 L3.6,-36.6 L3,-41.4 Q2.6,-44 0.4,-43.6Z"/>
<circle cx="0.6" cy="-48.6" r="3.1"/>
<path d="M-3.2,-49.2 Q-3.2,-53.2 0.6,-53.2 Q4.2,-53.2 4.4,-49.6 L5.4,-49 L-3.2,-49.2Z"/>
</g>
<polygon points="191.1,211.5 206.6,220.8 206.6,160.3 191.1,151" fill="#fff" stroke="#5c5c5c" stroke-width="0.7" stroke-linejoin="round" />
<polygon points="206.6,220.8 261.1,188.1 261.1,127.6 206.6,160.3" fill="#fff" stroke="#5c5c5c" stroke-width="0.7" stroke-linejoin="round" />
<polygon points="191.1,151 245.6,118.3 261.1,127.6 206.6,160.3" fill="#fff" stroke="#5c5c5c" stroke-width="0.7" stroke-linejoin="round" />
<polyline points="217.6,214.2 217.6,153.7 202.1,144.4" fill="none" stroke="#5c5c5c" stroke-width="0.6" stroke-linejoin="round" stroke-linecap="round" />
<polyline points="218.8,213.5 218.8,153 203.3,143.7" fill="none" stroke="#5c5c5c" stroke-width="0.4" stroke-linejoin="round" stroke-linecap="round" />
<polygon points="194.1,187.3 203.6,193 203.6,176 194.1,170.3" fill="#e4e4e4" stroke="#5c5c5c" stroke-width="0.6" stroke-linejoin="round" />
<polygon points="195.6,186.2 203.6,191 203.6,176 195.6,171.2" fill="#f6f6f6" stroke="#5c5c5c" stroke-width="0.4" stroke-linejoin="round" />
<polyline points="222.1,211.5 222.1,151" fill="none" stroke="#5c5c5c" stroke-width="0.6" stroke-linejoin="round" stroke-linecap="round" />
<polygon points="223.6,204.6 257.6,184.2 257.6,137.2 223.6,157.6" fill="#f3f3f3" stroke="#5c5c5c" stroke-width="0.6" stroke-linejoin="round" />
<polyline points="255.6,182.9 255.6,139.9 223.6,159.1" fill="none" stroke="#5c5c5c" stroke-width="0.4" stroke-linejoin="round" stroke-linecap="round" />
<polygon points="223.6,169.6 255.6,148.9 255.6,144.4 223.6,165.1" fill="#ffffff" stroke="#5c5c5c" stroke-width="0.5" stroke-linejoin="round" />
<polyline points="223.6,171.8 255.6,151.1" fill="none" stroke="#5c5c5c" stroke-width="0.4" stroke-linejoin="round" stroke-linecap="round" />
<polygon points="223.6,181.1 255.6,160.4 255.6,155.9 223.6,176.6" fill="#ffffff" stroke="#5c5c5c" stroke-width="0.5" stroke-linejoin="round" />
<polyline points="223.6,183.3 255.6,162.6" fill="none" stroke="#5c5c5c" stroke-width="0.4" stroke-linejoin="round" stroke-linecap="round" />
<polygon points="223.6,192.6 255.6,171.9 255.6,167.4 223.6,188.1" fill="#ffffff" stroke="#5c5c5c" stroke-width="0.5" stroke-linejoin="round" />
<polyline points="223.6,194.8 255.6,174.1" fill="none" stroke="#5c5c5c" stroke-width="0.4" stroke-linejoin="round" stroke-linecap="round" />
<polyline points="223.6,201.6 257.6,181.2" fill="none" stroke="#5c5c5c" stroke-width="0.4" stroke-linejoin="round" stroke-linecap="round" />
<g transform="translate(188.6 223.6) scale(1 1)" fill="#fff" stroke="#5c5c5c" stroke-width="0.75" stroke-linejoin="round" stroke-linecap="round">
<path d="M0.3,-26 L0.8,-3.2 L0.2,-1.6 Q0.4,-0.4 2.2,-0.2 L4.6,0.2 Q5.6,-0.4 4.4,-1.6 L3.6,-3 L4.4,-26Z"/>
<path d="M-4.4,-26 L-3.8,-5.2 L-4.4,-3.4 Q-4.2,-2.2 -2.4,-2 L0,-1.6 Q1,-2.2 -0.2,-3.4 L-0.9,-5 L-0.2,-26Z"/>
<path d="M-5,-41 Q-5.2,-45 -1.6,-45.6 L1.8,-45.6 Q4.8,-45 5,-41 L4.8,-25.2 L-4.8,-24.6Z"/>
<path d="M0.4,-43.6 Q-1.4,-42 -0.8,-38 L0.6,-33.6 Q1.4,-32.4 2.8,-33 L8.8,-36.6 Q10,-38 8.4,-38.8 L3.6,-36.6 L3,-41.4 Q2.6,-44 0.4,-43.6Z"/>
<circle cx="0.6" cy="-48.6" r="3.1"/>
<path d="M-3.2,-49.2 Q-3.2,-53.2 0.6,-53.2 Q4.2,-53.2 4.4,-49.6 L5.4,-49 L-3.2,-49.2Z"/>
</g>
<polygon points="596.2,243.8 637.5,219 637.5,260 596.2,284.8" fill="url(#gD)" stroke="#e2e2e2" stroke-width="0.5" stroke-linejoin="round" />
<polygon points="596.2,243.8 617.5,256.5 617.5,296.5 596.2,283.8" fill="url(#gL)" stroke="#efefef" stroke-width="0.5" stroke-linejoin="round" />
<g transform="translate(662.5 283) scale(1 1)" fill="#fff" stroke="#5c5c5c" stroke-width="0.75" stroke-linejoin="round" stroke-linecap="round">
<path d="M0.3,-26 L0.8,-3.2 L0.2,-1.6 Q0.4,-0.4 2.2,-0.2 L4.6,0.2 Q5.6,-0.4 4.4,-1.6 L3.6,-3 L4.4,-26Z"/>
<path d="M-4.4,-26 L-3.8,-5.2 L-4.4,-3.4 Q-4.2,-2.2 -2.4,-2 L0,-1.6 Q1,-2.2 -0.2,-3.4 L-0.9,-5 L-0.2,-26Z"/>
<path d="M-5,-41 Q-5.2,-45 -1.6,-45.6 L1.8,-45.6 Q4.8,-45 5,-41 L4.8,-25.2 L-4.8,-24.6Z"/>
<path d="M0.4,-43.6 Q-1.4,-42 -0.8,-38 L0.6,-33.6 Q1.4,-32.4 2.8,-33 L8.8,-36.6 Q10,-38 8.4,-38.8 L3.6,-36.6 L3,-41.4 Q2.6,-44 0.4,-43.6Z"/>
<circle cx="0.6" cy="-48.6" r="3.1"/>
<path d="M-3.2,-49.2 Q-3.2,-53.2 0.6,-53.2 Q4.2,-53.2 4.4,-49.6 L5.4,-49 L-3.2,-49.2Z"/>
</g>
<polyline points="690.7,210.6 690.7,236" fill="none" stroke="#5c5c5c" stroke-width="2.6" stroke-linejoin="round" stroke-linecap="round" />
<polyline points="690.7,210.6 690.7,236" fill="none" stroke="#fff" stroke-width="1.3" stroke-linejoin="round" stroke-linecap="round" />
<polygon points="681,269.5 716.5,290.8 716.5,268.3 681,247" fill="#fff" stroke="#5c5c5c" stroke-width="0.7" stroke-linejoin="round" />
<polygon points="716.5,290.8 747.6,272.1 747.6,249.6 716.5,268.3" fill="#fff" stroke="#5c5c5c" stroke-width="0.7" stroke-linejoin="round" />
<polygon points="681,247 712.1,228.3 747.6,249.6 716.5,268.3" fill="#fff" stroke="#5c5c5c" stroke-width="0.7" stroke-linejoin="round" />
<polygon points="681,247 690,252.4 694,263.8 694,277.3 681,269.5" fill="#fff" stroke="#5c5c5c" stroke-width="0.6" stroke-linejoin="round" />
<polygon points="697,277.1 708,283.7 708,268.7 697,262.1" fill="#fff" stroke="#5c5c5c" stroke-width="0.5" stroke-linejoin="round" />
<polygon points="699,278.3 706,282.5 706,270.5 699,266.3" fill="#f1f1f1" stroke="#5c5c5c" stroke-width="0.5" stroke-linejoin="round" />
<polyline points="694,257.8 716.5,271.3" fill="none" stroke="#5c5c5c" stroke-width="0.5" stroke-linejoin="round" stroke-linecap="round" />
<polyline points="716.5,271.3 747.6,252.6" fill="none" stroke="#5c5c5c" stroke-width="0.5" stroke-linejoin="round" stroke-linecap="round" />
<polygon points="724.5,277 735.5,270.4 735.5,265.4 724.5,272" fill="#e6e6e6" stroke="#5c5c5c" stroke-width="0.6" stroke-linejoin="round" />
<polygon points="695,248.2 714,236.8 728,242.8 731,253 713,256.6" fill="#fff" stroke="#5c5c5c" stroke-width="0.5" stroke-linejoin="round" />
<polygon points="694.5,229 700,226.2 706.5,229.2 706.8,237 701.5,245 697,243.5 694,237.5" fill="#e9e9e9" stroke="#5c5c5c" stroke-width="0.7" stroke-linejoin="round" />
<polygon points="696,231.5 700.2,229.3 704.6,231.4 704.4,236.3 700.3,238.6 696.2,236.4" fill="#cfcfcf" stroke="#5c5c5c" stroke-width="0.5" stroke-linejoin="round" />
<path d="M701.5,245 L708,249 L713,247 M697,243.5 L695,247" fill="none" stroke="#666" stroke-width="0.6" stroke-linejoin="round" stroke-linecap="round" />
<path d="M706,222 L718,244 M712,225 L726,250 M700,238 L724,252" fill="none" stroke="#666" stroke-width="0.5" stroke-linejoin="round" stroke-linecap="round" />
<polyline points="690.7,210.6 728.7,232.4" fill="none" stroke="#5c5c5c" stroke-width="2.8" stroke-linejoin="round" stroke-linecap="round" />
<polyline points="690.7,210.6 728.7,232.4" fill="none" stroke="#fff" stroke-width="1.5" stroke-linejoin="round" stroke-linecap="round" />
<polyline points="728.7,232.4 728.7,262" fill="none" stroke="#5c5c5c" stroke-width="2.6" stroke-linejoin="round" stroke-linecap="round" />
<polyline points="728.7,232.4 728.7,262" fill="none" stroke="#fff" stroke-width="1.3" stroke-linejoin="round" stroke-linecap="round" />
<circle cx="690.7" cy="210.6" r="2.3" fill="#fff" stroke="#5c5c5c" stroke-width="0.8"/>
<circle cx="699.1" cy="215.4" r="2.3" fill="#fff" stroke="#5c5c5c" stroke-width="0.8"/>
<circle cx="714.3" cy="224.1" r="2.3" fill="#fff" stroke="#5c5c5c" stroke-width="0.8"/>
<circle cx="728.7" cy="232.4" r="2.3" fill="#fff" stroke="#5c5c5c" stroke-width="0.8"/>
<circle cx="727.6" cy="264.3" r="3.6" fill="#fff" stroke="#5c5c5c" stroke-width="0.8"/><circle cx="727.6" cy="264.3" r="1.4" fill="#ddd" stroke="#5c5c5c" stroke-width="0.5"/>
<polygon points="673.6,247.6 676,243.6 687.2,249.6 684.8,254" fill="#e8e8e8" stroke="#4a4a4a" stroke-width="0.9" stroke-linejoin="round" />
<path d="M685,252.5 L689,258 L688,262" fill="none" stroke="#666" stroke-width="0.8" stroke-linejoin="round" stroke-linecap="round" />
<polygon points="666,285.5 691.2,300.6 691.2,342.6 666,327.5" fill="url(#gL)" stroke="#efefef" stroke-width="0.5" stroke-linejoin="round" />
<polygon points="691.2,299.8 780.8,246.1 780.8,288.1 691.2,341.8" fill="url(#gD)" stroke="#e2e2e2" stroke-width="0.5" stroke-linejoin="round" />
<polygon points="506,297 547,272.4 547,314.4 506,339" fill="url(#gD)" stroke="#e2e2e2" stroke-width="0.5" stroke-linejoin="round" />
<polyline points="536.9,328.2 536.9,318.7" fill="none" stroke="#5c5c5c" stroke-width="0.5" stroke-linejoin="round" stroke-linecap="round" />
<polyline points="541.4,325.5 541.4,316" fill="none" stroke="#5c5c5c" stroke-width="0.5" stroke-linejoin="round" stroke-linecap="round" />
<polyline points="545.8,322.8 545.8,313.3" fill="none" stroke="#5c5c5c" stroke-width="0.5" stroke-linejoin="round" stroke-linecap="round" />
<polyline points="550.3,320.2 550.3,310.7" fill="none" stroke="#5c5c5c" stroke-width="0.5" stroke-linejoin="round" stroke-linecap="round" />
<polyline points="554.8,317.5 554.8,308" fill="none" stroke="#5c5c5c" stroke-width="0.5" stroke-linejoin="round" stroke-linecap="round" />
<polyline points="559.2,314.8 559.2,305.3" fill="none" stroke="#5c5c5c" stroke-width="0.5" stroke-linejoin="round" stroke-linecap="round" />
<polyline points="563.7,312.1 563.7,302.6" fill="none" stroke="#5c5c5c" stroke-width="0.5" stroke-linejoin="round" stroke-linecap="round" />
<polyline points="520.9,318.6 520.9,309.1" fill="none" stroke="#5c5c5c" stroke-width="0.5" stroke-linejoin="round" stroke-linecap="round" />
<polyline points="528.9,323.4 528.9,313.9" fill="none" stroke="#5c5c5c" stroke-width="0.5" stroke-linejoin="round" stroke-linecap="round" />
<polyline points="536.9,328.2 536.9,318.7" fill="none" stroke="#5c5c5c" stroke-width="0.5" stroke-linejoin="round" stroke-linecap="round" />
<polygon points="520.9,309.1 536.9,318.7 536.9,317.2 520.9,307.6" fill="#f5f5f5" stroke="#5c5c5c" stroke-width="0.7" stroke-linejoin="round" />
<polygon points="536.9,318.7 563.7,302.6 563.7,301.1 536.9,317.2" fill="#eee" stroke="#5c5c5c" stroke-width="0.7" stroke-linejoin="round" />
<polygon points="520.9,307.6 547.7,291.5 563.7,301.1 536.9,317.2" fill="#fff" stroke="#5c5c5c" stroke-width="0.7" stroke-linejoin="round" />
<polygon points="520.9,307.6 536.9,317.2 536.9,305.2 520.9,295.6" fill="#fff" stroke="#5c5c5c" stroke-width="0.7" stroke-linejoin="round" />
<polygon points="536.9,317.2 563.7,301.1 563.7,289.1 536.9,305.2" fill="#fafafa" stroke="#5c5c5c" stroke-width="0.7" stroke-linejoin="round" />
<polygon points="520.9,295.6 547.7,279.5 563.7,289.1 536.9,305.2" fill="#fff" stroke="#5c5c5c" stroke-width="0.7" stroke-linejoin="round" />
<polyline points="520.9,303.6 536.9,313.2 563.7,297.1" fill="none" stroke="#5c5c5c" stroke-width="0.7" stroke-linejoin="round" stroke-linecap="round" />
<polyline points="520.9,299.6 536.9,309.2 563.7,293.1" fill="none" stroke="#5c5c5c" stroke-width="0.7" stroke-linejoin="round" stroke-linecap="round" />
<polyline points="525.4,292.9 541.4,302.5 541.4,314.5" fill="none" stroke="#5c5c5c" stroke-width="0.7" stroke-linejoin="round" stroke-linecap="round" />
<polyline points="529.8,290.2 545.8,299.8 545.8,311.8" fill="none" stroke="#5c5c5c" stroke-width="0.7" stroke-linejoin="round" stroke-linecap="round" />
<polyline points="534.3,287.6 550.3,297.2 550.3,309.2" fill="none" stroke="#5c5c5c" stroke-width="0.7" stroke-linejoin="round" stroke-linecap="round" />
<polyline points="538.8,284.9 554.8,294.5 554.8,306.5" fill="none" stroke="#5c5c5c" stroke-width="0.7" stroke-linejoin="round" stroke-linecap="round" />
<polyline points="543.2,282.2 559.2,291.8 559.2,303.8" fill="none" stroke="#5c5c5c" stroke-width="0.7" stroke-linejoin="round" stroke-linecap="round" />
<polyline points="555.7,284.3 528.9,300.4 528.9,312.4" fill="none" stroke="#5c5c5c" stroke-width="0.7" stroke-linejoin="round" stroke-linecap="round" />
<polygon points="506,297 527,309.6 527,351.6 506,339" fill="url(#gL)" stroke="#efefef" stroke-width="0.5" stroke-linejoin="round" />
<g transform="translate(495 295) scale(0.1852)" fill="#fff" stroke="#5c5c5c" stroke-width="3.8" stroke-linejoin="round" stroke-linecap="round">

<path d="M336,110 L344,250 L356,246 L350,104Z" fill="#f6f6f6"/>
<path d="M398,118 L410,262 L424,256 L412,112Z" fill="#f6f6f6"/>
<path d="M255,300 L300,272 L345,250 L418,222 L424,330 L392,352 L300,402 L262,380Z"/>
<path d="M290,292 L345,262 L418,226 L418,236 L346,276 L292,306Z" fill="#f3f3f3"/>
<path d="M292,306 L300,400" fill="none"/>
<path d="M286,214 L330,196 L346,204 L346,262 L300,284 L286,276Z"/>
<path d="M286,214 L302,222 L346,204 M302,222 L300,284" fill="none"/>
<path d="M262,246 L278,240 L282,262 L268,270Z" fill="#eee"/>
<path d="M268,270 L272,300" fill="none"/>
<ellipse cx="386" cy="350" rx="22" ry="26" fill="#f4f4f4"/><ellipse cx="384" cy="351" rx="12" ry="15"/><ellipse cx="384" cy="351" rx="5" ry="6" fill="#ddd"/>
<path d="M236,360 L262,346 L300,372 L300,402 L262,440 L236,430Z"/>
<ellipse cx="264" cy="410" rx="28" ry="34" fill="#f4f4f4"/><ellipse cx="262" cy="411" rx="16" ry="20"/><ellipse cx="262" cy="411" rx="6" ry="8" fill="#ddd"/>
<path d="M168,128 L296,58 L412,110 L412,118 L284,190 L168,136Z" fill="#efefef"/>
<path d="M168,128 L296,58 L412,110 L284,182Z"/>
<path d="M190,138 L318,68 M212,148 L340,78 M235,158 L362,88 M258,169 L386,99 M202,143 L330,73 M224,153 L352,83 M247,164 L374,94 M270,175 L398,104" fill="none"/>
<path d="M128,150 L158,136 L262,196 L262,222 L238,236 L128,176Z" fill="#f2f2f2"/>
<path d="M100,166 L128,150 L158,164 L130,180Z"/>
<path d="M200,208 L226,193 L262,210 L238,226Z"/>
<path d="M130,180 L158,164 L226,193 L200,208Z" fill="#f7f7f7"/>
<path d="M130,180 L200,212 L200,334 L130,302Z" fill="#f3f3f3"/>
<path d="M160,210 L160,316 M174,216 L174,322" fill="none"/>
<path d="M166,236 L166,260" fill="none" stroke-width="6"/>
<path d="M100,166 L130,180 L130,302 L100,288Z"/>
<path d="M200,208 L238,226 L238,356 L200,340Z"/>
<path d="M238,226 L262,210 L262,346 L238,360Z" fill="#f0f0f0"/>
<path d="M94,296 L242,366 L242,432 L94,362Z"/>
<path d="M94,312 L242,382 M94,326 L242,396 M94,344 L242,414" fill="none"/>
<path d="M242,366 L256,358 L256,424 L242,432Z" fill="#eee"/>
<path d="M104,366 L104,392 L128,404 L128,378Z"/>
<path d="M156,392 L156,418 L180,430 L180,404Z"/>
<path d="M108,392 L132,403 L26,472 Q12,476 8,466Z"/>
<path d="M158,418 L184,429 L76,502 Q62,506 56,495Z"/>

</g>
<polyline points="601.9,365.2 601.9,355.7" fill="none" stroke="#5c5c5c" stroke-width="0.5" stroke-linejoin="round" stroke-linecap="round" />
<polyline points="606.2,362.6 606.2,353.1" fill="none" stroke="#5c5c5c" stroke-width="0.5" stroke-linejoin="round" stroke-linecap="round" />
<polyline points="610.5,360 610.5,350.5" fill="none" stroke="#5c5c5c" stroke-width="0.5" stroke-linejoin="round" stroke-linecap="round" />
<polyline points="614.8,357.4 614.8,347.9" fill="none" stroke="#5c5c5c" stroke-width="0.5" stroke-linejoin="round" stroke-linecap="round" />
<polyline points="619.1,354.9 619.1,345.4" fill="none" stroke="#5c5c5c" stroke-width="0.5" stroke-linejoin="round" stroke-linecap="round" />
<polyline points="623.4,352.3 623.4,342.8" fill="none" stroke="#5c5c5c" stroke-width="0.5" stroke-linejoin="round" stroke-linecap="round" />
<polyline points="627.7,349.7 627.7,340.2" fill="none" stroke="#5c5c5c" stroke-width="0.5" stroke-linejoin="round" stroke-linecap="round" />
<polyline points="632,347.1 632,337.6" fill="none" stroke="#5c5c5c" stroke-width="0.5" stroke-linejoin="round" stroke-linecap="round" />
<polyline points="586.6,356 586.6,346.5" fill="none" stroke="#5c5c5c" stroke-width="0.5" stroke-linejoin="round" stroke-linecap="round" />
<polyline points="594.2,360.6 594.2,351.1" fill="none" stroke="#5c5c5c" stroke-width="0.5" stroke-linejoin="round" stroke-linecap="round" />
<polyline points="601.9,365.2 601.9,355.7" fill="none" stroke="#5c5c5c" stroke-width="0.5" stroke-linejoin="round" stroke-linecap="round" />
<polygon points="586.6,346.5 601.9,355.7 601.9,354.2 586.6,345" fill="#f5f5f5" stroke="#5c5c5c" stroke-width="0.7" stroke-linejoin="round" />
<polygon points="601.9,355.7 632,337.6 632,336.1 601.9,354.2" fill="#eee" stroke="#5c5c5c" stroke-width="0.7" stroke-linejoin="round" />
<polygon points="586.6,345 616.7,326.9 632,336.1 601.9,354.2" fill="#fff" stroke="#5c5c5c" stroke-width="0.7" stroke-linejoin="round" />
<polygon points="586.6,345 601.9,354.2 601.9,342.2 586.6,333" fill="#fff" stroke="#5c5c5c" stroke-width="0.7" stroke-linejoin="round" />
<polygon points="601.9,354.2 632,336.1 632,324.1 601.9,342.2" fill="#fafafa" stroke="#5c5c5c" stroke-width="0.7" stroke-linejoin="round" />
<polygon points="586.6,333 616.7,314.9 632,324.1 601.9,342.2" fill="#fff" stroke="#5c5c5c" stroke-width="0.7" stroke-linejoin="round" />
<polyline points="586.6,341 601.9,350.2 632,332.1" fill="none" stroke="#5c5c5c" stroke-width="0.7" stroke-linejoin="round" stroke-linecap="round" />
<polyline points="586.6,337 601.9,346.2 632,328.1" fill="none" stroke="#5c5c5c" stroke-width="0.7" stroke-linejoin="round" stroke-linecap="round" />
<polyline points="590.9,330.4 606.2,339.6 606.2,351.6" fill="none" stroke="#5c5c5c" stroke-width="0.7" stroke-linejoin="round" stroke-linecap="round" />
<polyline points="595.2,327.8 610.5,337 610.5,349" fill="none" stroke="#5c5c5c" stroke-width="0.7" stroke-linejoin="round" stroke-linecap="round" />
<polyline points="599.5,325.3 614.8,334.4 614.8,346.4" fill="none" stroke="#5c5c5c" stroke-width="0.7" stroke-linejoin="round" stroke-linecap="round" />
<polyline points="603.8,322.7 619.1,331.9 619.1,343.9" fill="none" stroke="#5c5c5c" stroke-width="0.7" stroke-linejoin="round" stroke-linecap="round" />
<polyline points="608.1,320.1 623.4,329.3 623.4,341.3" fill="none" stroke="#5c5c5c" stroke-width="0.7" stroke-linejoin="round" stroke-linecap="round" />
<polyline points="612.4,317.5 627.7,326.7 627.7,338.7" fill="none" stroke="#5c5c5c" stroke-width="0.7" stroke-linejoin="round" stroke-linecap="round" />
<polyline points="624.4,319.5 594.2,337.6 594.2,349.6" fill="none" stroke="#5c5c5c" stroke-width="0.7" stroke-linejoin="round" stroke-linecap="round" />
<polygon points="576.4,339.8 601.8,355 601.8,396.5 576.4,381.3" fill="url(#gL)" stroke="#efefef" stroke-width="0.5" stroke-linejoin="round" />
<polygon points="601.8,354 637.4,332.6 637.4,374.1 601.8,395.5" fill="url(#gD)" stroke="#e2e2e2" stroke-width="0.5" stroke-linejoin="round" />
<polygon points="415.8,351 460,324.5 460,366.5 415.8,393" fill="url(#gD)" stroke="#e2e2e2" stroke-width="0.5" stroke-linejoin="round" />
<polygon points="426.4,391.4 449.8,405.4 449.8,364.7 426.4,350.7" fill="#fff" stroke="#5c5c5c" stroke-width="0.7" stroke-linejoin="round" />
<polygon points="449.8,405.4 493.6,379.2 493.6,338.5 449.8,364.7" fill="#fff" stroke="#5c5c5c" stroke-width="0.7" stroke-linejoin="round" />
<polygon points="426.4,350.7 470.2,324.4 493.6,338.5 449.8,364.7" fill="#fff" stroke="#5c5c5c" stroke-width="0.7" stroke-linejoin="round" />
<polygon points="451,402.7 492.4,377.9 492.4,343.7 451,368.5" fill="#c9c9c9" stroke="#5c5c5c" stroke-width="0.5" stroke-linejoin="round" />
<polyline points="451,400.3 492.4,375.4" fill="none" stroke="#777" stroke-width="0.6" stroke-linejoin="round" stroke-linecap="round" />
<polyline points="451,397.8 492.4,373" fill="none" stroke="#777" stroke-width="0.6" stroke-linejoin="round" stroke-linecap="round" />
<polyline points="451,395.4 492.4,370.6" fill="none" stroke="#777" stroke-width="0.6" stroke-linejoin="round" stroke-linecap="round" />
<polyline points="451,392.9 492.4,368.1" fill="none" stroke="#777" stroke-width="0.6" stroke-linejoin="round" stroke-linecap="round" />
<polyline points="451,390.5 492.4,365.7" fill="none" stroke="#777" stroke-width="0.6" stroke-linejoin="round" stroke-linecap="round" />
<polyline points="451,388.1 492.4,363.2" fill="none" stroke="#777" stroke-width="0.6" stroke-linejoin="round" stroke-linecap="round" />
<polyline points="451,385.6 492.4,360.8" fill="none" stroke="#777" stroke-width="0.6" stroke-linejoin="round" stroke-linecap="round" />
<polyline points="451,383.2 492.4,358.3" fill="none" stroke="#777" stroke-width="0.6" stroke-linejoin="round" stroke-linecap="round" />
<polyline points="451,380.7 492.4,355.9" fill="none" stroke="#777" stroke-width="0.6" stroke-linejoin="round" stroke-linecap="round" />
<polyline points="451,378.3 492.4,353.5" fill="none" stroke="#777" stroke-width="0.6" stroke-linejoin="round" stroke-linecap="round" />
<polyline points="451,375.8 492.4,351" fill="none" stroke="#777" stroke-width="0.6" stroke-linejoin="round" stroke-linecap="round" />
<polyline points="451,373.4 492.4,348.6" fill="none" stroke="#777" stroke-width="0.6" stroke-linejoin="round" stroke-linecap="round" />
<polyline points="451,371 492.4,346.1" fill="none" stroke="#777" stroke-width="0.6" stroke-linejoin="round" stroke-linecap="round" />
<polyline points="449.8,367.7 493.6,341.5" fill="none" stroke="#5c5c5c" stroke-width="0.5" stroke-linejoin="round" stroke-linecap="round" />
<polygon points="415.8,351 437.4,364 437.4,406 415.8,393" fill="url(#gL)" stroke="#efefef" stroke-width="0.5" stroke-linejoin="round" />
<polygon points="486.7,393.3 511.3,408.1 511.3,450.1 486.7,435.3" fill="url(#gL)" stroke="#efefef" stroke-width="0.5" stroke-linejoin="round" />
<polygon points="511.3,407.6 548.3,385.4 548.3,427.4 511.3,449.6" fill="url(#gD)" stroke="#e2e2e2" stroke-width="0.5" stroke-linejoin="round" />
<polygon points="20.5,246 62.5,220.8 62.5,262.8 20.5,288" fill="url(#gD)" stroke="#e2e2e2" stroke-width="0.5" stroke-linejoin="round" />
<polygon points="92,258 120,241 140,253 112,270" fill="#fff" stroke="#5c5c5c" stroke-width="0.7" stroke-linejoin="round" />
<polygon points="100,232 113.4,238.3 113.4,245.3 100,239" fill="#ececec" stroke="#4f4f4f" stroke-width="0.9" stroke-linejoin="round" />
<polygon points="97,233.4 110.4,239.7 110.4,246.9 97,240.6" fill="#ececec" stroke="#4f4f4f" stroke-width="0.9" stroke-linejoin="round" />
<polygon points="118.2,227.1 127.7,231 127.7,236.7 118.2,232.8" fill="#ececec" stroke="#4f4f4f" stroke-width="0.9" stroke-linejoin="round" />
<polygon points="110.4,267.3 138.7,250.5 160.7,263.7 132.4,280.5" fill="#fff" stroke="#5c5c5c" stroke-width="0.7" stroke-linejoin="round" />
<polygon points="132.4,280.5 160.7,263.7 160.7,265 157.5,286.4 132.9,299.6 132.4,281.8" fill="#fff" stroke="#5c5c5c" stroke-width="0.7" stroke-linejoin="round" />
<polygon points="132.4,280.5 114,270 114.5,289 132.9,299.6" fill="#fff" stroke="#5c5c5c" stroke-width="0.7" stroke-linejoin="round" />
<polyline points="132.4,281.8 160.7,265" fill="none" stroke="#5c5c5c" stroke-width="0.5" stroke-linejoin="round" stroke-linecap="round" />
<g transform="translate(144.2 237.3) scale(0.1667 0.1667)" fill="#fff" stroke="#5c5c5c" stroke-width="4.3" stroke-linejoin="round" stroke-linecap="round">
<path d="M38,58 L70,68 Q78,71 78,82 L75,160 L48,150Z"/>
<path d="M-36,42 Q-30,26 0,28 Q36,30 46,56 L52,142 L-24,122Z"/>
<path d="M-30,60 L-40,112 L-20,126 L-6,118 L-14,72Z"/>
<path d="M30,66 L26,120 L-4,136 L-12,126 L12,108Z"/>
<circle cx="0" cy="0" r="22"/>
<path d="M-22,4 Q-24,-24 2,-24 Q24,-22 22,6 Q14,-10 0,-8 Q-14,-8 -22,4Z" fill="#f0f0f0"/>
</g>
<polygon points="104.1,249.1 128.5,236.5 128.5,249.5 104.1,262.5" fill="#f0f0f0" stroke="#5c5c5c" stroke-width="0.7" stroke-linejoin="round" />
<g transform="translate(90.7 242.8) scale(0.1667 0.1667)" fill="#fff" stroke="#5c5c5c" stroke-width="4.3" stroke-linejoin="round" stroke-linecap="round">
<path d="M-35,203 L-35,240 M-35,240 L-78,258 M-35,240 L-60,278 M-35,240 L-12,282 M-35,240 L10,262 M-35,240 L-32,254" fill="none" stroke-width="5"/>
<g fill="#fff" stroke-width="3"><circle cx="-78" cy="260" r="4"/><circle cx="-60" cy="280" r="4"/><circle cx="-12" cy="284" r="4"/><circle cx="10" cy="264" r="4"/></g>
<ellipse cx="-28" cy="190" rx="42" ry="15"/>
<path d="M-74,178 L-72,214" fill="none"/>
<path d="M-22,160 L36,178 Q48,184 44,200 L36,240 L50,250 Q52,256 44,256 L22,254 L18,240 L14,208 L-34,196Z"/>
<path d="M-42,34 Q-28,16 -4,20 L22,34 Q38,46 35,76 L28,112 Q20,150 8,170 L-50,160 Q-64,122 -56,80Z"/>
<path d="M16,44 Q38,54 42,80 L76,108 Q84,116 76,124 L70,126 L28,104 Q12,80 16,44Z"/>
<g transform="translate(-78 150) scale(1.00) translate(78 -150)"><path d="M-102,112 Q-104,100 -92,101 L-62,105 Q-52,107 -53,118 L-56,172 Q-58,183 -69,181 L-94,177 Q-104,175 -103,164Z"/>
<path d="M-92,116 L-64,120 L-66,146 L-93,142Z" fill="none" stroke-width="3"/></g>
<circle cx="0" cy="0" r="21"/>
<path d="M-21,2 Q-24,-22 2,-23 Q20,-22 21,-6 Q6,-12 -6,-2 Q-10,12 -16,14Z" fill="#f0f0f0"/>
</g>
<polygon points="134,250.7 144.2,255.8 144.2,269 134,264.3" fill="#ececec" stroke="#4f4f4f" stroke-width="0.9" stroke-linejoin="round" />
<polygon points="119.8,243.6 134,250.7 134,265.6 119.8,258.5" fill="#ececec" stroke="#4f4f4f" stroke-width="0.9" stroke-linejoin="round" />
<polygon points="121,266 128.5,262.5 131,264 123.5,267.8" fill="#ddd" stroke="#5c5c5c" stroke-width="0.5" stroke-linejoin="round" />
<g transform="translate(113.2 253.8) scale(0.1667 0.1667)" fill="#fff" stroke="#5c5c5c" stroke-width="4.3" stroke-linejoin="round" stroke-linecap="round">
<path d="M-35,203 L-35,240 M-35,240 L-78,258 M-35,240 L-60,278 M-35,240 L-12,282 M-35,240 L10,262 M-35,240 L-32,254" fill="none" stroke-width="5"/>
<g fill="#fff" stroke-width="3"><circle cx="-78" cy="260" r="4"/><circle cx="-60" cy="280" r="4"/><circle cx="-12" cy="284" r="4"/><circle cx="10" cy="264" r="4"/></g>
<ellipse cx="-28" cy="190" rx="42" ry="15"/>
<path d="M-74,178 L-72,214" fill="none"/>
<path d="M-22,160 L36,178 Q48,184 44,200 L36,240 L50,250 Q52,256 44,256 L22,254 L18,240 L14,208 L-34,196Z"/>
<path d="M-42,34 Q-28,16 -4,20 L22,34 Q38,46 35,76 L28,112 Q20,150 8,170 L-50,160 Q-64,122 -56,80Z"/>
<path d="M16,44 Q38,54 42,80 L76,108 Q84,116 76,124 L70,126 L28,104 Q12,80 16,44Z"/>
<g transform="translate(-78 150) scale(1.00) translate(78 -150)"><path d="M-102,112 Q-104,100 -92,101 L-62,105 Q-52,107 -53,118 L-56,172 Q-58,183 -69,181 L-94,177 Q-104,175 -103,164Z"/>
<path d="M-92,116 L-64,120 L-66,146 L-93,142Z" fill="none" stroke-width="3"/></g>
<circle cx="0" cy="0" r="21"/>
<path d="M-21,2 Q-24,-22 2,-23 Q20,-22 21,-6 Q6,-12 -6,-2 Q-10,12 -16,14Z" fill="#f0f0f0"/>
</g>
<polygon points="20.5,246 110,299.7 110,342.2 20.5,288.5" fill="url(#gL)" stroke="#efefef" stroke-width="0.5" stroke-linejoin="round" />
<polygon points="110,298.9 132.5,285.4 132.5,327.9 110,341.4" fill="url(#gD)" stroke="#e2e2e2" stroke-width="0.5" stroke-linejoin="round" />
<polygon points="183.8,256 205,243.2 205,284.8 183.8,297.5" fill="url(#gD)" stroke="#e2e2e2" stroke-width="0.5" stroke-linejoin="round" />
<g transform="translate(230.8 283.2) scale(0.1667 0.1667)" fill="#fff" stroke="#5c5c5c" stroke-width="4.3" stroke-linejoin="round" stroke-linecap="round">
<path d="M38,58 L70,68 Q78,71 78,82 L75,160 L48,150Z"/>
<path d="M-36,42 Q-30,26 0,28 Q36,30 46,56 L52,142 L-24,122Z"/>
<path d="M-30,60 L-40,112 L-20,126 L-6,118 L-14,72Z"/>
<path d="M30,66 L26,120 L-4,136 L-12,126 L12,108Z"/>
<circle cx="0" cy="0" r="22"/>
<path d="M-22,4 Q-24,-24 2,-24 Q24,-22 22,6 Q14,-10 0,-8 Q-14,-8 -22,4Z" fill="#f0f0f0"/>
</g>
<path d="M184.4,303.2 Q183.6,301.2 185.6,300 L201.5,290.6 Q203.5,289.6 205.5,290.7 L249.8,316.6 Q251.8,318 250,319.6 L234,329.6 Q232,330.8 229.6,329.6 L186,304.6 Q184.6,304 184.4,303.2 L185.2,316.2 Q185.4,317.4 187,318.4 L229.6,343.6 Q232,345 234.4,343.6 L248.4,334.6 Q249.8,333.6 249.8,332 L250,319.6" fill="#fff" stroke="#5c5c5c" stroke-width="0.7" stroke-linejoin="round" stroke-linecap="round" />
<path d="M186,304.6 L229.6,329.6 Q232,330.8 234,329.6 L250,319.6" fill="none" stroke="#666" stroke-width="0.6" stroke-linejoin="round" stroke-linecap="round" />
<polygon points="190,285 195,287.5 195,302.5 190,300" fill="#fff" stroke="#5c5c5c" stroke-width="0.6" stroke-linejoin="round" />
<polygon points="190,285 200.8,280 205.8,282.5 195,287.5" fill="#fff" stroke="#5c5c5c" stroke-width="0.6" stroke-linejoin="round" />
<polygon points="195,287.5 205.8,282.5 205.8,297.5 195,302.5" fill="#f3f3f3" stroke="#5c5c5c" stroke-width="0.7" stroke-linejoin="round" />
<polyline points="191.7,285.8 191.7,300.8" fill="none" stroke="#5c5c5c" stroke-width="0.4" stroke-linejoin="round" stroke-linecap="round" />
<polyline points="193.3,286.6 193.3,301.6" fill="none" stroke="#5c5c5c" stroke-width="0.4" stroke-linejoin="round" stroke-linecap="round" />
<polyline points="218,308 216,312 220,314" fill="none" stroke="#5c5c5c" stroke-width="0.7" stroke-linejoin="round" stroke-linecap="round" />
<polygon points="209.2,293.3 227.5,302.5 227.5,313.5 209.2,303.9" fill="#ececec" stroke="#4f4f4f" stroke-width="0.9" stroke-linejoin="round" />
<ellipse cx="236" cy="314.6" rx="1.8" ry="1.2" fill="#fff" stroke="#5c5c5c" stroke-width="0.6"/>
<polygon points="129.5,312.5 200,354.8 200,396.1 129.5,353.8" fill="url(#gL)" stroke="#efefef" stroke-width="0.5" stroke-linejoin="round" />
<polygon points="200,353.9 222.5,340.4 222.5,381.4 200,394.9" fill="url(#gD)" stroke="#e2e2e2" stroke-width="0.5" stroke-linejoin="round" />
<polygon points="272,311.2 294.5,297.8 294.5,339.1 272,352.6" fill="url(#gD)" stroke="#e2e2e2" stroke-width="0.5" stroke-linejoin="round" />
<g transform="translate(295.8 330.2) scale(0.1667 0.1667)" fill="#fff" stroke="#5c5c5c" stroke-width="4.3" stroke-linejoin="round" stroke-linecap="round">
<path d="M38,58 L70,68 Q78,71 78,82 L75,160 L48,150Z"/>
<path d="M-36,42 Q-30,26 0,28 Q36,30 46,56 L52,142 L-24,122Z"/>
<path d="M-30,60 L-40,112 L-20,126 L-6,118 L-14,72Z"/>
<path d="M30,66 L26,120 L-4,136 L-12,126 L12,108Z"/>
<circle cx="0" cy="0" r="22"/>
<path d="M-22,4 Q-24,-24 2,-24 Q24,-22 22,6 Q14,-10 0,-8 Q-14,-8 -22,4Z" fill="#f0f0f0"/>
</g>
<polygon points="279.2,360 300.8,347.5 334,366.8 310.3,378.3" fill="#fff" stroke="#5c5c5c" stroke-width="0.7" stroke-linejoin="round" />
<polygon points="279.2,360 310.3,378.3 310.3,397.2 281.4,381.7" fill="#fff" stroke="#5c5c5c" stroke-width="0.7" stroke-linejoin="round" />
<polygon points="310.3,378.3 322,372.5 321,391.5 310.3,397.2" fill="#fff" stroke="#5c5c5c" stroke-width="0.7" stroke-linejoin="round" />
<polyline points="310.3,393 321,387.4" fill="none" stroke="#5c5c5c" stroke-width="0.5" stroke-linejoin="round" stroke-linecap="round" />
<polygon points="288.5,356 295.5,352.5 300,355 293,358.8" fill="#ddd" stroke="#5c5c5c" stroke-width="0.5" stroke-linejoin="round" />
<polygon points="314,362.5 323.5,358 327,360 317.5,364.8" fill="#ddd" stroke="#5c5c5c" stroke-width="0.5" stroke-linejoin="round" />
<polyline points="307,353 306,357" fill="none" stroke="#5c5c5c" stroke-width="0.7" stroke-linejoin="round" stroke-linecap="round" />
<polygon points="300.3,345 315.8,337 315.8,349.2 300.3,356.9" fill="#ececec" stroke="#4f4f4f" stroke-width="0.9" stroke-linejoin="round" />
<polyline points="316,357 315,361.5" fill="none" stroke="#5c5c5c" stroke-width="0.7" stroke-linejoin="round" stroke-linecap="round" />
<polygon points="308,349.2 324.7,340 324.7,352.2 308,361.9" fill="#ececec" stroke="#4f4f4f" stroke-width="0.9" stroke-linejoin="round" />
<g transform="translate(330.8 347) scale(-0.1667 0.1667)" fill="#fff" stroke="#5c5c5c" stroke-width="4.3" stroke-linejoin="round" stroke-linecap="round">
<path d="M-35,203 L-35,240 M-35,240 L-78,258 M-35,240 L-60,278 M-35,240 L-12,282 M-35,240 L10,262 M-35,240 L-32,254" fill="none" stroke-width="5"/>
<g fill="#fff" stroke-width="3"><circle cx="-78" cy="260" r="4"/><circle cx="-60" cy="280" r="4"/><circle cx="-12" cy="284" r="4"/><circle cx="10" cy="264" r="4"/></g>
<ellipse cx="-28" cy="190" rx="42" ry="15"/>
<path d="M-74,178 L-72,214" fill="none"/>
<path d="M-22,160 L36,178 Q48,184 44,200 L36,240 L50,250 Q52,256 44,256 L22,254 L18,240 L14,208 L-34,196Z"/>
<path d="M-42,34 Q-28,16 -4,20 L22,34 Q38,46 35,76 L28,112 Q20,150 8,170 L-50,160 Q-64,122 -56,80Z"/>
<path d="M16,44 Q38,54 42,80 L76,108 Q84,116 76,124 L70,126 L28,104 Q12,80 16,44Z"/>
<g transform="translate(-78 150) scale(1.25) translate(78 -150)"><path d="M-102,112 Q-104,100 -92,101 L-62,105 Q-52,107 -53,118 L-56,172 Q-58,183 -69,181 L-94,177 Q-104,175 -103,164Z"/>
<path d="M-92,116 L-64,120 L-66,146 L-93,142Z" fill="none" stroke-width="3"/></g>
<circle cx="0" cy="0" r="21"/>
<path d="M-21,2 Q-24,-22 2,-23 Q20,-22 21,-6 Q6,-12 -6,-2 Q-10,12 -16,14Z" fill="#f0f0f0"/>
</g>
<polygon points="218.8,366.2 289.2,408.6 289.2,450.6 218.8,408.2" fill="url(#gL)" stroke="#efefef" stroke-width="0.5" stroke-linejoin="round" />
<polygon points="289.2,407.6 312,394 312,436 289.2,449.6" fill="url(#gD)" stroke="#e2e2e2" stroke-width="0.5" stroke-linejoin="round" />
<polygon points="361.2,364 383.8,350.5 383.8,393.5 361.2,407" fill="url(#gD)" stroke="#e2e2e2" stroke-width="0.5" stroke-linejoin="round" />
<polygon points="370.8,407.5 382.5,414.2 382.5,431.9 371.5,426.7" fill="#fff" stroke="#5c5c5c" stroke-width="0.7" stroke-linejoin="round" />
<polyline points="371.2,421 382.5,426.5" fill="none" stroke="#5c5c5c" stroke-width="0.5" stroke-linejoin="round" stroke-linecap="round" />
<polygon points="389.2,383.3 410.8,393.7 410.8,406.9 389.2,396.5" fill="#ececec" stroke="#4f4f4f" stroke-width="0.9" stroke-linejoin="round" />
<polygon points="410.8,393.7 430.8,403.7 430.8,418.9 410.8,407.7" fill="#ececec" stroke="#4f4f4f" stroke-width="0.9" stroke-linejoin="round" />
<polygon points="370,405.8 388.3,395 444.2,422.5 421.7,435.8" fill="#fff" stroke="#5c5c5c" stroke-width="0.8" stroke-linejoin="round" fill-opacity="0"/>
<polygon points="370,405.8 372,404.6 389.2,396.5 410.8,406.9 410.8,407.7 430.8,418.9 444.2,422.5 421.7,435.8" fill="#fff" stroke="none" stroke-width="0.7" stroke-linejoin="round" />
<polyline points="388.3,395 370,405.8 421.7,435.8 444.2,422.5 432,416.5" fill="none" stroke="#5c5c5c" stroke-width="0.8" stroke-linejoin="round" stroke-linecap="round" />
<polyline points="370,407 421.7,437 444.2,423.7" fill="none" stroke="#5c5c5c" stroke-width="0.5" stroke-linejoin="round" stroke-linecap="round" />
<polygon points="410,430.3 421.7,437 421.7,458.5 410,452" fill="#fff" stroke="#5c5c5c" stroke-width="0.7" stroke-linejoin="round" />
<polygon points="421.7,437 441.7,425.2 441.7,446 421.7,458.5" fill="#fff" stroke="#5c5c5c" stroke-width="0.7" stroke-linejoin="round" />
<polyline points="410,446 421.7,452.6 441.7,440.4" fill="none" stroke="#5c5c5c" stroke-width="0.5" stroke-linejoin="round" stroke-linecap="round" />
<polygon points="405,417 419,409.5 426,413.5 412,421.2" fill="#fff" stroke="#5c5c5c" stroke-width="0.5" stroke-linejoin="round" />
<polygon points="406,412.5 414,416.5 410,419 402,415" fill="#ddd" stroke="#5c5c5c" stroke-width="0.5" stroke-linejoin="round" />
<g transform="translate(400 401.7) scale(0.1667 0.1667)" fill="#fff" stroke="#5c5c5c" stroke-width="4.3" stroke-linejoin="round" stroke-linecap="round">
<path d="M-35,203 L-35,240 M-35,240 L-78,258 M-35,240 L-60,278 M-35,240 L-12,282 M-35,240 L10,262 M-35,240 L-32,254" fill="none" stroke-width="5"/>
<g fill="#fff" stroke-width="3"><circle cx="-78" cy="260" r="4"/><circle cx="-60" cy="280" r="4"/><circle cx="-12" cy="284" r="4"/><circle cx="10" cy="264" r="4"/></g>
<ellipse cx="-28" cy="190" rx="42" ry="15"/>
<path d="M-74,178 L-72,214" fill="none"/>
<path d="M-22,160 L36,178 Q48,184 44,200 L36,240 L50,250 Q52,256 44,256 L22,254 L18,240 L14,208 L-34,196Z"/>
<path d="M-42,34 Q-28,16 -4,20 L22,34 Q38,46 35,76 L28,112 Q20,150 8,170 L-50,160 Q-64,122 -56,80Z"/>
<path d="M16,44 Q38,54 42,80 L76,108 Q84,116 76,124 L70,126 L28,104 Q12,80 16,44Z"/>
<g transform="translate(-78 150) scale(1.30) translate(78 -150)"><path d="M-102,112 Q-104,100 -92,101 L-62,105 Q-52,107 -53,118 L-56,172 Q-58,183 -69,181 L-94,177 Q-104,175 -103,164Z"/>
<path d="M-92,116 L-64,120 L-66,146 L-93,142Z" fill="none" stroke-width="3"/></g>
<circle cx="0" cy="0" r="21"/>
<path d="M-21,2 Q-24,-22 2,-23 Q20,-22 21,-6 Q6,-12 -6,-2 Q-10,12 -16,14Z" fill="#f0f0f0"/>
</g>
<polygon points="308.8,420 400.5,475.1 400.5,516 308.8,461" fill="url(#gL)" stroke="#efefef" stroke-width="0.5" stroke-linejoin="round" />
<polygon points="400.5,474 491.2,419.6 491.2,462.1 400.5,516.5" fill="url(#gD4)" stroke="#e2e2e2" stroke-width="0.5" stroke-linejoin="round" />
<g font-family="Liberation Sans, sans-serif" font-size="19.6" fill="#262626">
<text x="821" y="57" textLength="94.7" lengthAdjust="spacingAndGlyphs">Shop Floor</text>
<text x="821" y="81.6" textLength="83.5" lengthAdjust="spacingAndGlyphs">Feedback</text>
<text x="821" y="118.6" textLength="119.7" lengthAdjust="spacingAndGlyphs">Color Offload</text>
<text x="821" y="155.6" textLength="83.5" lengthAdjust="spacingAndGlyphs">Data Hub</text>
<text x="821" y="192.5" textLength="98.6" lengthAdjust="spacingAndGlyphs">Shop Clock</text>
<text x="820.7" y="334" textLength="63.3" lengthAdjust="spacingAndGlyphs">Quality</text>
<text x="820.7" y="358.3" textLength="78.7" lengthAdjust="spacingAndGlyphs">Manager</text>
<text x="820.7" y="395.7" textLength="86.7" lengthAdjust="spacingAndGlyphs">Shipping/</text>
<text x="820.7" y="419.3" textLength="84.3" lengthAdjust="spacingAndGlyphs">Receiving</text>
<text x="820.7" y="456" textLength="82.7" lengthAdjust="spacingAndGlyphs">Inventory</text>
</g>
<polyline points="805.3,39.2 805.3,195.3" fill="none" stroke="#1c1616" stroke-width="1.4" stroke-linejoin="round" stroke-linecap="round" />
<polyline points="805.3,313.3 805.3,464" fill="none" stroke="#1c1616" stroke-width="1.4" stroke-linejoin="round" stroke-linecap="round" />
<polyline points="453.2,178.2 587.2,95.8 805.3,95.8" fill="none" stroke="#15100f" stroke-width="1.4" stroke-linejoin="round" stroke-linecap="round" />
<polyline points="652,342.5 733.5,391.9 805.3,391.9" fill="none" stroke="#15100f" stroke-width="1.4" stroke-linejoin="round" stroke-linecap="round" />
</svg>

</body></html>
